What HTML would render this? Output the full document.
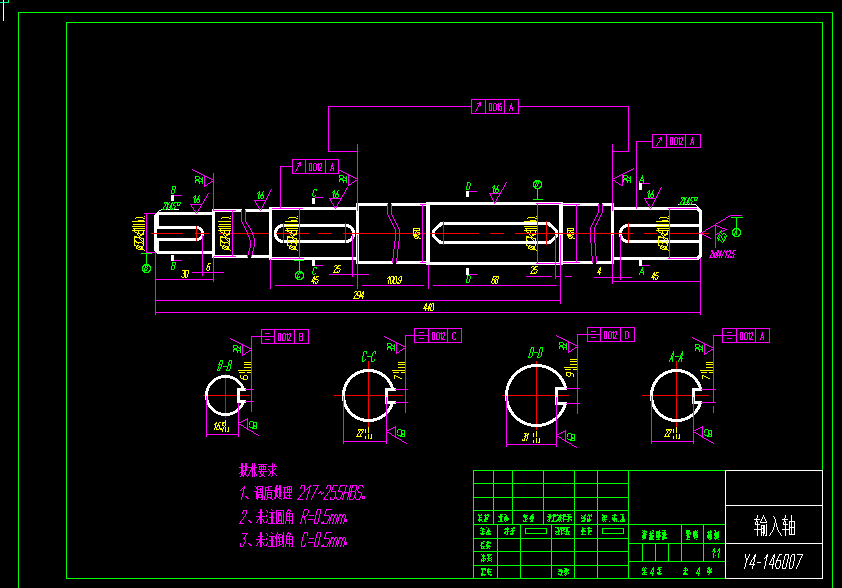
<!DOCTYPE html>
<html><head><meta charset="utf-8"><title>Y4-146007</title>
<style>html,body{margin:0;padding:0;background:#000;overflow:hidden;font-family:"Liberation Sans",sans-serif}svg{display:block}</style>
</head><body>
<svg width="842" height="588" viewBox="0 0 842 588" shape-rendering="crispEdges">
<desc>输入轴 Y4-146007 技术要求 1、调质处理 217~255HBS。 2、未注圆角 R=0.5mm。 3、未注倒角 C=0.5mm。 B-B C-C D-D A-A 比例 1:1 共4页 第4页</desc>
<rect x="0" y="0" width="842" height="588" fill="#000"/>
<path fill="rgb(0,255,0)" d="M18 12h815v1h-815zM66 22h757v1h-757zM623 175h4v1h-4zM339 175h4v1h-4zM642 175h1v2h-1zM195 176h4v1h-4zM343 176h1v1h-1zM627 176h1v1h-1zM339 176h1v2h-1zM630 176h1v2h-1zM346 176h1v2h-1zM623 176h1v2h-1zM343 177h2v1h-2zM627 177h2v1h-2zM199 177h1v1h-1zM195 177h1v2h-1zM202 177h1v2h-1zM641 177h2v2h-2zM199 178h2v1h-2zM624 178h3v1h-3zM345 178h2v1h-2zM629 178h2v1h-2zM340 178h3v1h-3zM196 179h3v1h-3zM623 179h4v1h-4zM640 179h1v1h-1zM339 179h4v1h-4zM643 179h1v1h-1zM630 179h1v1h-1zM346 179h1v1h-1zM201 179h2v1h-2zM342 180h5v1h-5zM626 180h5v1h-5zM195 180h4v1h-4zM202 180h1v1h-1zM535 180h5v1h-5zM640 180h4v1h-4zM339 180h1v2h-1zM623 180h1v2h-1zM198 181h5v1h-5zM534 181h7v1h-7zM195 181h1v2h-1zM639 181h1v2h-1zM643 181h1v2h-1zM346 181h1v2h-1zM630 181h1v2h-1zM343 181h1v2h-1zM627 181h1v2h-1zM467 182h3v1h-3zM533 182h2v1h-2zM540 182h2v1h-2zM538 182h1v2h-1zM536 182h1v2h-1zM202 182h1v2h-1zM199 182h1v2h-1zM467 183h1v3h-1zM541 183h1v3h-1zM533 183h1v3h-1zM470 183h1v3h-1zM535 184h1v2h-1zM537 184h1v2h-1zM494 185h1v1h-1zM498 185h1v1h-1zM533 186h4v1h-4zM493 186h2v1h-2zM172 186h4v1h-4zM540 186h2v1h-2zM497 186h1v2h-1zM534 187h2v1h-2zM494 187h1v1h-1zM492 187h1v1h-1zM539 187h2v1h-2zM469 186h1v3h-1zM466 186h1v3h-1zM172 187h1v2h-1zM175 187h1v2h-1zM496 188h2v1h-2zM493 188h2v1h-2zM535 188h5v1h-5zM466 189h3v1h-3zM172 189h3v1h-3zM495 189h4v1h-4zM314 189h3v1h-3zM316 190h1v1h-1zM653 190h1v1h-1zM338 190h1v1h-1zM649 190h1v1h-1zM334 190h1v1h-1zM493 189h1v3h-1zM498 190h1v2h-1zM495 190h1v2h-1zM648 191h2v1h-2zM263 191h1v1h-1zM259 191h1v1h-1zM333 191h2v1h-2zM313 190h1v3h-1zM174 190h1v3h-1zM171 190h1v3h-1zM337 191h1v2h-1zM652 191h1v2h-1zM332 192h1v1h-1zM496 192h2v1h-2zM493 192h2v1h-2zM647 192h1v1h-1zM258 192h2v1h-2zM649 192h1v1h-1zM334 192h1v1h-1zM262 192h1v2h-1zM648 193h2v1h-2zM336 193h2v1h-2zM259 193h1v1h-1zM333 193h2v1h-2zM651 193h2v1h-2zM171 193h3v1h-3zM257 193h1v1h-1zM261 194h2v1h-2zM335 194h4v1h-4zM258 194h2v1h-2zM650 194h4v1h-4zM312 193h1v3h-1zM195 195h1v1h-1zM315 195h1v1h-1zM199 195h1v1h-1zM260 195h4v1h-4zM333 194h1v3h-1zM648 194h1v3h-1zM650 195h1v2h-1zM653 195h1v2h-1zM338 195h1v2h-1zM335 195h1v2h-1zM194 196h2v1h-2zM313 196h2v1h-2zM258 195h1v3h-1zM260 196h1v2h-1zM198 196h1v2h-1zM263 196h1v2h-1zM195 197h1v1h-1zM681 197h4v1h-4zM689 197h1v1h-1zM193 197h1v1h-1zM648 197h2v1h-2zM336 197h2v1h-2zM691 197h7v1h-7zM333 197h2v1h-2zM686 197h1v1h-1zM651 197h2v1h-2zM537 189h1v10h-1zM691 198h1v1h-1zM261 198h2v1h-2zM697 198h1v1h-1zM681 198h1v1h-1zM258 198h2v1h-2zM688 198h2v1h-2zM197 198h2v1h-2zM683 198h3v1h-3zM194 198h2v1h-2zM694 198h1v2h-1zM688 199h1v1h-1zM684 199h2v1h-2zM690 199h1v1h-1zM533 199h10v1h-10zM196 199h4v1h-4zM696 199h1v1h-1zM682 199h1v2h-1zM694 200h3v1h-3zM690 200h2v1h-2zM194 199h1v3h-1zM684 200h1v2h-1zM199 200h1v2h-1zM687 200h2v2h-2zM196 200h1v2h-1zM681 201h1v1h-1zM692 201h1v1h-1zM169 202h1v1h-1zM172 202h1v1h-1zM164 202h4v1h-4zM197 202h2v1h-2zM194 202h2v1h-2zM174 202h7v1h-7zM686 202h3v1h-3zM683 202h2v2h-2zM691 202h1v2h-1zM680 202h1v2h-1zM180 203h1v1h-1zM689 203h1v1h-1zM171 203h2v1h-2zM166 203h3v1h-3zM174 203h1v1h-1zM164 203h1v1h-1zM687 203h1v2h-1zM177 203h1v2h-1zM173 204h1v1h-1zM689 204h2v1h-2zM179 204h1v1h-1zM167 204h2v1h-2zM684 204h1v1h-1zM679 204h4v1h-4zM171 204h1v1h-1zM165 204h1v2h-1zM173 205h2v1h-2zM177 205h3v1h-3zM167 205h1v2h-1zM170 205h2v2h-2zM164 206h1v1h-1zM175 206h1v1h-1zM169 207h3v1h-3zM163 207h1v2h-1zM174 207h1v2h-1zM166 207h2v2h-2zM172 208h1v1h-1zM170 208h1v2h-1zM167 209h1v1h-1zM162 209h4v1h-4zM172 209h2v1h-2zM731 217h12v1h-12zM736 218h1v10h-1zM734 228h5v1h-5zM733 229h2v1h-2zM738 229h2v1h-2zM736 229h1v2h-1zM732 230h2v1h-2zM721 230h1v1h-1zM739 230h2v1h-2zM735 231h2v2h-2zM720 231h1v2h-1zM740 231h1v3h-1zM732 231h1v3h-1zM721 233h1v1h-1zM734 233h1v1h-1zM723 233h2v1h-2zM736 233h1v2h-1zM719 234h1v1h-1zM725 234h1v1h-1zM739 234h2v1h-2zM722 234h1v1h-1zM732 234h3v1h-3zM733 235h2v1h-2zM720 235h1v1h-1zM738 235h2v1h-2zM718 235h1v2h-1zM726 235h1v2h-1zM724 236h1v1h-1zM734 236h5v1h-5zM721 236h1v2h-1zM724 237h2v1h-2zM719 237h1v1h-1zM717 237h1v1h-1zM725 238h1v1h-1zM717 238h2v1h-2zM722 238h1v2h-1zM718 239h2v1h-2zM724 239h1v1h-1zM723 240h2v1h-2zM718 240h1v1h-1zM720 240h1v1h-1zM723 241h1v1h-1zM721 241h1v1h-1zM722 242h1v1h-1zM141 253h11v1h-11zM294 260h10v1h-10zM172 262h4v1h-4zM146 254h1v10h-1zM172 263h1v2h-1zM175 263h1v2h-1zM144 264h5v1h-5zM172 265h3v1h-3zM143 265h7v1h-7zM145 266h1v1h-1zM147 266h1v1h-1zM149 266h2v1h-2zM142 266h2v1h-2zM145 267h2v1h-2zM314 267h3v1h-3zM174 266h1v3h-1zM171 266h1v3h-1zM642 267h1v2h-1zM147 268h1v1h-1zM316 268h1v1h-1zM142 267h1v3h-1zM150 267h1v3h-1zM144 268h1v2h-1zM146 269h1v1h-1zM171 269h3v1h-3zM299 261h1v10h-1zM313 268h1v3h-1zM641 269h2v2h-2zM149 270h2v1h-2zM142 270h5v1h-5zM640 271h1v1h-1zM148 271h2v1h-2zM643 271h1v1h-1zM297 271h5v1h-5zM143 271h2v1h-2zM299 272h4v1h-4zM144 272h5v1h-5zM296 272h2v1h-2zM640 272h4v1h-4zM312 271h1v3h-1zM302 273h2v1h-2zM315 273h1v1h-1zM300 273h1v1h-1zM295 273h2v1h-2zM639 273h1v2h-1zM643 273h1v2h-1zM298 273h1v2h-1zM313 274h2v1h-2zM467 275h3v1h-3zM295 274h1v3h-1zM303 274h1v3h-1zM297 275h1v2h-1zM299 276h1v1h-1zM302 277h2v1h-2zM295 277h5v1h-5zM467 276h1v3h-1zM470 276h1v3h-1zM296 278h2v1h-2zM301 278h2v1h-2zM297 279h5v1h-5zM469 279h1v3h-1zM466 279h1v3h-1zM466 282h3v1h-3zM559 342h4v1h-4zM563 343h1v1h-1zM387 343h4v1h-4zM559 343h1v2h-1zM566 343h1v2h-1zM563 344h2v1h-2zM695 344h4v1h-4zM391 344h1v1h-1zM394 344h1v2h-1zM387 344h1v2h-1zM565 345h2v1h-2zM560 345h3v1h-3zM233 345h4v1h-4zM699 345h1v1h-1zM391 345h2v1h-2zM695 345h1v2h-1zM702 345h1v2h-1zM699 346h2v1h-2zM559 346h4v1h-4zM566 346h1v1h-1zM388 346h3v1h-3zM393 346h2v1h-2zM237 346h1v1h-1zM240 346h1v2h-1zM233 346h1v2h-1zM394 347h1v1h-1zM387 347h4v1h-4zM237 347h2v1h-2zM540 347h3v1h-3zM562 347h5v1h-5zM701 347h2v1h-2zM531 347h3v1h-3zM696 347h3v1h-3zM559 347h1v2h-1zM695 348h4v1h-4zM540 348h1v1h-1zM239 348h2v1h-2zM531 348h1v1h-1zM390 348h5v1h-5zM702 348h1v1h-1zM234 348h3v1h-3zM566 348h1v2h-1zM563 348h1v2h-1zM387 348h1v2h-1zM240 349h1v1h-1zM233 349h4v1h-4zM698 349h5v1h-5zM394 349h1v2h-1zM391 349h1v2h-1zM695 349h1v2h-1zM236 350h5v1h-5zM533 348h1v4h-1zM542 348h1v4h-1zM699 350h1v2h-1zM702 350h1v2h-1zM233 350h1v2h-1zM374 351h2v1h-2zM364 351h3v1h-3zM539 349h1v4h-1zM530 349h1v4h-1zM240 351h1v2h-1zM237 351h1v2h-1zM673 351h1v2h-1zM682 351h1v2h-1zM534 352h4v1h-4zM373 352h1v1h-1zM366 352h1v2h-1zM375 352h1v2h-1zM672 353h2v2h-2zM681 353h2v2h-2zM541 352h1v4h-1zM532 352h1v4h-1zM363 352h1v4h-1zM538 353h1v3h-1zM529 353h1v3h-1zM372 353h1v3h-1zM682 355h1v1h-1zM671 355h1v1h-1zM673 355h1v1h-1zM680 355h1v1h-1zM528 356h1v1h-1zM540 356h1v1h-1zM537 356h1v1h-1zM531 356h1v1h-1zM675 356h4v1h-4zM367 356h5v1h-5zM680 356h2v2h-2zM671 356h2v2h-2zM537 357h3v1h-3zM528 357h3v1h-3zM679 358h4v1h-4zM670 358h3v1h-3zM679 359h1v1h-1zM670 359h1v1h-1zM365 359h1v1h-1zM362 356h1v5h-1zM371 357h1v4h-1zM374 359h1v2h-1zM220 360h3v1h-3zM229 360h3v1h-3zM364 360h1v1h-1zM681 359h1v3h-1zM672 359h1v3h-1zM678 360h1v2h-1zM669 360h1v2h-1zM220 361h1v1h-1zM362 361h2v1h-2zM229 361h1v1h-1zM371 361h3v1h-3zM231 361h1v3h-1zM222 361h1v3h-1zM219 362h1v2h-1zM228 362h1v2h-1zM218 364h4v1h-4zM228 364h3v1h-3zM219 365h1v1h-1zM228 365h1v1h-1zM221 365h1v2h-1zM223 366h5v1h-5zM230 365h1v4h-1zM218 366h1v3h-1zM220 367h1v2h-1zM227 367h1v2h-1zM219 369h1v1h-1zM226 369h1v1h-1zM217 369h1v1h-1zM229 369h1v1h-1zM226 370h4v1h-4zM217 370h3v1h-3zM250 421h3v1h-3zM253 422h4v1h-4zM249 422h1v3h-1zM253 423h1v2h-1zM256 423h1v3h-1zM253 425h2v1h-2zM249 426h1v1h-1zM253 426h4v1h-4zM256 427h1v1h-1zM250 427h4v1h-4zM252 428h5v1h-5zM705 429h3v1h-3zM398 429h3v1h-3zM708 430h4v1h-4zM401 430h4v1h-4zM397 430h1v3h-1zM704 430h1v3h-1zM401 431h1v2h-1zM708 431h1v2h-1zM404 431h1v3h-1zM711 431h1v3h-1zM708 433h2v1h-2zM401 433h2v1h-2zM568 433h3v1h-3zM708 434h4v1h-4zM571 434h4v1h-4zM397 434h1v1h-1zM401 434h4v1h-4zM704 434h1v1h-1zM404 435h1v1h-1zM711 435h1v1h-1zM705 435h4v1h-4zM398 435h4v1h-4zM567 434h1v3h-1zM571 435h1v2h-1zM400 436h5v1h-5zM707 436h5v1h-5zM574 435h1v3h-1zM571 437h2v1h-2zM571 438h4v1h-4zM567 438h1v1h-1zM574 439h1v1h-1zM568 439h4v1h-4zM570 440h5v1h-5zM822 23h1v447h-1zM473 470h252v1h-252zM628 471h1v12h-1zM597 471h1v12h-1zM512 471h1v12h-1zM574 471h1v12h-1zM543 471h1v12h-1zM493 471h1v12h-1zM473 471h1v12h-1zM473 483h156v1h-156zM543 484h1v13h-1zM493 484h1v13h-1zM597 484h1v13h-1zM512 484h1v13h-1zM574 484h1v13h-1zM628 484h1v13h-1zM473 484h1v13h-1zM473 497h156v1h-156zM628 498h1v12h-1zM597 498h1v12h-1zM473 498h1v12h-1zM512 498h1v12h-1zM574 498h1v12h-1zM543 498h1v12h-1zM493 498h1v12h-1zM473 510h156v1h-156zM588 514h1v1h-1zM481 514h1v1h-1zM487 514h2v1h-2zM560 514h1v1h-1zM553 514h3v1h-3zM585 514h1v1h-1zM478 514h1v1h-1zM563 514h3v1h-3zM485 514h1v1h-1zM524 514h1v1h-1zM567 514h4v1h-4zM500 514h3v1h-3zM591 514h1v1h-1zM614 514h2v1h-2zM620 514h4v1h-4zM548 514h3v1h-3zM532 514h2v1h-2zM504 514h2v1h-2zM557 514h1v1h-1zM602 514h1v1h-1zM523 515h5v1h-5zM478 515h4v1h-4zM602 515h5v1h-5zM549 515h2v1h-2zM584 515h2v1h-2zM531 515h2v1h-2zM506 515h1v1h-1zM612 515h5v1h-5zM622 515h1v1h-1zM581 515h1v1h-1zM552 515h14v1h-14zM568 515h1v1h-1zM484 515h5v1h-5zM588 515h4v1h-4zM500 515h2v1h-2zM603 516h2v1h-2zM582 516h1v1h-1zM559 516h2v1h-2zM553 516h3v1h-3zM505 516h2v1h-2zM488 516h1v1h-1zM523 516h4v1h-4zM587 516h1v1h-1zM485 516h1v1h-1zM591 516h1v1h-1zM479 516h1v1h-1zM606 516h1v1h-1zM584 516h1v1h-1zM547 516h5v1h-5zM563 516h9v1h-9zM498 516h5v1h-5zM530 516h4v2h-4zM614 516h1v2h-1zM602 517h5v1h-5zM479 517h3v1h-3zM563 517h1v1h-1zM583 517h2v1h-2zM612 517h1v1h-1zM558 517h4v1h-4zM568 517h4v1h-4zM581 517h1v1h-1zM524 517h3v1h-3zM548 517h3v1h-3zM504 517h4v1h-4zM499 517h3v1h-3zM589 516h1v3h-1zM622 516h2v3h-2zM485 517h3v2h-3zM604 518h1v1h-1zM560 518h1v1h-1zM529 518h5v1h-5zM549 518h2v1h-2zM527 518h1v1h-1zM568 518h2v1h-2zM587 518h1v1h-1zM525 518h1v1h-1zM479 518h1v1h-1zM581 518h5v1h-5zM602 518h1v1h-1zM562 518h2v1h-2zM558 518h1v1h-1zM553 517h1v3h-1zM612 518h5v2h-5zM504 518h5v2h-5zM563 519h6v1h-6zM548 519h2v1h-2zM484 519h4v1h-4zM532 519h1v1h-1zM602 519h5v1h-5zM584 519h2v1h-2zM621 519h4v1h-4zM525 519h2v1h-2zM557 519h4v1h-4zM570 519h2v1h-2zM530 519h1v1h-1zM500 518h2v3h-2zM478 519h4v2h-4zM587 519h4v2h-4zM604 520h1v1h-1zM613 520h2v1h-2zM582 520h3v1h-3zM560 520h1v1h-1zM504 520h1v1h-1zM531 520h2v1h-2zM547 520h1v1h-1zM571 520h1v1h-1zM525 520h1v1h-1zM549 520h1v1h-1zM622 520h3v1h-3zM568 520h1v1h-1zM556 520h3v1h-3zM552 520h2v1h-2zM523 520h1v1h-1zM602 520h1v1h-1zM484 520h2v1h-2zM620 520h1v1h-1zM506 520h2v1h-2zM616 520h1v2h-1zM563 520h1v2h-1zM530 521h3v1h-3zM551 521h6v1h-6zM548 521h2v1h-2zM620 521h5v1h-5zM581 521h4v1h-4zM603 521h1v1h-1zM567 521h2v1h-2zM523 521h4v1h-4zM609 521h1v1h-1zM587 521h3v1h-3zM559 521h1v1h-1zM479 521h1v1h-1zM484 521h3v1h-3zM605 521h1v1h-1zM561 521h1v1h-1zM618 521h1v1h-1zM505 521h1v1h-1zM482 521h1v1h-1zM498 521h5v1h-5zM614 521h1v1h-1zM628 511h1v13h-1zM597 511h1v13h-1zM512 511h1v13h-1zM574 511h1v13h-1zM543 511h1v13h-1zM493 511h1v13h-1zM473 511h1v13h-1zM473 524h252v1h-252zM582 527h1v1h-1zM560 527h10v1h-10zM481 527h1v1h-1zM555 527h4v1h-4zM486 527h1v1h-1zM507 527h1v1h-1zM588 527h2v1h-2zM513 527h2v1h-2zM525 528h22v1h-22zM511 528h4v1h-4zM560 528h5v1h-5zM602 528h22v1h-22zM505 528h4v1h-4zM557 528h2v1h-2zM480 528h4v1h-4zM587 528h5v1h-5zM582 528h4v1h-4zM488 528h1v2h-1zM563 529h2v1h-2zM588 529h1v1h-1zM512 529h1v1h-1zM504 529h5v1h-5zM582 529h2v1h-2zM560 529h2v1h-2zM558 529h1v1h-1zM482 529h3v1h-3zM566 528h2v3h-2zM642 530h1v1h-1zM480 530h1v1h-1zM644 530h1v1h-1zM581 530h4v1h-4zM511 530h4v1h-4zM714 530h2v1h-2zM697 530h1v1h-1zM652 530h2v1h-2zM710 530h1v1h-1zM558 530h2v1h-2zM659 530h1v1h-1zM695 530h1v1h-1zM561 530h3v1h-3zM487 530h3v1h-3zM662 530h4v1h-4zM482 530h1v1h-1zM507 530h1v1h-1zM686 530h4v2h-4zM588 530h4v2h-4zM512 531h2v1h-2zM643 531h4v1h-4zM715 531h1v1h-1zM656 531h4v1h-4zM487 531h4v1h-4zM510 531h1v1h-1zM653 531h1v1h-1zM505 531h4v1h-4zM693 531h4v1h-4zM564 531h6v1h-6zM708 531h1v1h-1zM718 531h1v1h-1zM581 531h5v1h-5zM710 531h2v1h-2zM555 531h5v1h-5zM482 531h3v1h-3zM664 531h1v1h-1zM546 529h1v4h-1zM525 529h1v4h-1zM623 529h1v4h-1zM602 529h1v4h-1zM650 531h1v2h-1zM561 531h1v2h-1zM642 532h1v1h-1zM644 532h1v1h-1zM690 532h1v1h-1zM512 532h1v1h-1zM486 532h3v1h-3zM656 532h5v1h-5zM588 532h2v1h-2zM646 532h1v1h-1zM556 532h1v1h-1zM652 532h1v1h-1zM715 532h4v1h-4zM707 532h5v1h-5zM482 532h1v1h-1zM693 532h5v1h-5zM686 532h3v1h-3zM582 532h1v2h-1zM566 532h1v2h-1zM504 532h2v2h-2zM568 532h1v2h-1zM662 532h4v2h-4zM558 532h1v2h-1zM507 532h1v2h-1zM525 533h22v1h-22zM480 533h5v1h-5zM656 533h4v1h-4zM561 533h2v1h-2zM602 533h22v1h-22zM710 533h1v1h-1zM488 533h3v1h-3zM693 533h4v1h-4zM486 533h1v1h-1zM649 533h5v1h-5zM643 533h3v1h-3zM555 533h1v1h-1zM708 533h1v1h-1zM686 533h5v1h-5zM510 533h4v1h-4zM564 533h1v1h-1zM588 533h1v2h-1zM590 534h1v1h-1zM690 534h1v1h-1zM708 534h4v1h-4zM643 534h4v1h-4zM481 534h3v1h-3zM658 534h2v1h-2zM556 534h4v1h-4zM662 534h5v1h-5zM510 534h3v1h-3zM656 534h1v1h-1zM650 534h2v1h-2zM561 534h1v1h-1zM565 534h5v1h-5zM581 534h5v1h-5zM687 534h2v1h-2zM486 534h5v1h-5zM506 534h2v1h-2zM714 533h5v3h-5zM693 534h5v2h-5zM663 535h3v1h-3zM686 535h3v1h-3zM649 535h5v1h-5zM656 535h5v2h-5zM696 536h2v1h-2zM662 536h3v1h-3zM693 536h2v1h-2zM715 536h4v1h-4zM650 536h4v1h-4zM520 525h1v13h-1zM628 525h1v13h-1zM597 525h1v13h-1zM551 525h1v13h-1zM574 525h1v13h-1zM497 525h1v13h-1zM473 525h1v13h-1zM642 535h4v3h-4zM707 535h5v3h-5zM687 536h3v2h-3zM716 537h3v1h-3zM656 537h4v1h-4zM694 537h4v1h-4zM714 537h1v1h-1zM649 537h4v2h-4zM662 537h5v2h-5zM694 538h1v1h-1zM687 538h1v1h-1zM714 538h4v1h-4zM473 538h156v1h-156zM643 538h3v1h-3zM708 538h1v1h-1zM658 538h1v1h-1zM710 538h2v1h-2zM642 539h1v1h-1zM686 539h4v1h-4zM715 539h1v1h-1zM656 539h4v1h-4zM649 539h5v1h-5zM718 539h1v1h-1zM696 539h1v1h-1zM662 539h2v1h-2zM709 539h2v1h-2zM487 541h2v1h-2zM483 541h2v1h-2zM703 525h1v18h-1zM681 525h1v18h-1zM628 539h1v4h-1zM481 542h2v1h-2zM486 542h5v1h-5zM487 543h2v1h-2zM481 543h3v1h-3zM490 543h1v1h-1zM628 543h97v1h-97zM481 544h1v1h-1zM486 544h2v1h-2zM486 545h4v1h-4zM480 545h2v1h-2zM481 546h4v1h-4zM486 546h5v1h-5zM481 547h1v1h-1zM487 547h2v1h-2zM483 547h1v1h-1zM489 548h1v1h-1zM719 548h1v1h-1zM486 548h2v1h-2zM481 548h4v1h-4zM714 548h1v1h-1zM520 539h1v12h-1zM597 539h1v12h-1zM551 539h1v12h-1zM574 539h1v12h-1zM497 539h1v12h-1zM473 539h1v12h-1zM628 544h1v7h-1zM718 549h2v2h-2zM713 549h2v2h-2zM714 551h2v1h-2zM712 551h1v1h-1zM717 551h1v1h-1zM473 551h156v1h-156zM719 551h1v2h-1zM714 552h1v1h-1zM481 554h1v1h-1zM483 554h1v1h-1zM487 554h5v1h-5zM487 555h2v1h-2zM715 555h1v1h-1zM490 555h1v1h-1zM482 555h3v2h-3zM488 556h2v1h-2zM713 553h1v5h-1zM718 553h1v5h-1zM491 557h1v1h-1zM488 557h1v1h-1zM483 557h1v1h-1zM487 558h4v1h-4zM482 558h4v1h-4zM491 559h1v1h-1zM481 559h1v1h-1zM488 559h1v1h-1zM485 559h1v1h-1zM483 559h1v1h-1zM642 544h1v17h-1zM703 544h1v17h-1zM681 544h1v17h-1zM655 544h1v17h-1zM668 544h1v17h-1zM628 552h1v9h-1zM488 560h3v1h-3zM481 560h4v1h-4zM491 561h1v1h-1zM481 561h1v1h-1zM628 561h97v1h-97zM487 561h1v1h-1zM483 561h1v1h-1zM520 552h1v13h-1zM597 552h1v13h-1zM551 552h1v13h-1zM574 552h1v13h-1zM497 552h1v13h-1zM473 552h1v13h-1zM628 562h1v3h-1zM473 565h156v1h-156zM708 567h2v1h-2zM685 567h1v1h-1zM653 567h1v1h-1zM699 567h1v1h-1zM658 567h4v1h-4zM643 567h1v1h-1zM645 567h1v1h-1zM564 568h3v1h-3zM658 568h2v1h-2zM488 568h1v1h-1zM711 568h1v1h-1zM684 568h3v1h-3zM646 568h1v1h-1zM707 568h3v1h-3zM642 568h1v2h-1zM644 568h1v2h-1zM481 568h5v2h-5zM652 568h2v2h-2zM698 568h2v2h-2zM565 569h4v1h-4zM708 569h4v1h-4zM685 569h1v1h-1zM687 569h1v1h-1zM657 569h4v1h-4zM558 569h4v1h-4zM487 569h5v1h-5zM559 570h4v1h-4zM487 570h2v1h-2zM564 570h5v1h-5zM485 570h1v1h-1zM642 570h4v1h-4zM659 570h1v1h-1zM707 570h1v1h-1zM709 570h2v1h-2zM683 570h5v1h-5zM651 570h1v2h-1zM697 570h1v2h-1zM653 570h1v2h-1zM699 570h1v2h-1zM558 571h5v1h-5zM644 571h1v1h-1zM685 571h1v1h-1zM487 571h4v1h-4zM564 571h4v1h-4zM659 571h2v1h-2zM482 570h1v3h-1zM707 571h5v2h-5zM487 572h2v1h-2zM566 572h1v1h-1zM684 572h2v1h-2zM650 572h1v1h-1zM643 572h4v1h-4zM561 572h2v1h-2zM490 572h1v1h-1zM698 572h1v1h-1zM696 572h1v1h-1zM652 572h1v1h-1zM657 572h3v1h-3zM564 572h1v1h-1zM568 572h1v2h-1zM642 573h1v1h-1zM565 573h2v1h-2zM644 573h1v1h-1zM683 573h4v1h-4zM696 573h4v1h-4zM709 573h1v1h-1zM488 573h1v1h-1zM657 573h5v1h-5zM561 573h1v1h-1zM481 573h2v1h-2zM650 573h4v1h-4zM558 573h1v1h-1zM642 574h5v1h-5zM566 574h1v1h-1zM481 574h5v1h-5zM558 574h4v1h-4zM708 574h1v1h-1zM658 574h3v1h-3zM683 574h5v1h-5zM488 574h4v1h-4zM564 574h1v1h-1zM698 574h1v2h-1zM652 574h1v2h-1zM490 575h2v1h-2zM560 575h1v1h-1zM562 575h1v1h-1zM565 575h1v1h-1zM484 575h1v1h-1zM481 575h2v1h-2zM66 23h1v555h-1zM520 566h1v12h-1zM628 566h1v12h-1zM597 566h1v12h-1zM551 566h1v12h-1zM574 566h1v12h-1zM497 566h1v12h-1zM473 566h1v12h-1zM66 578h659v1h-659zM18 13h1v575h-1zM832 13h1v575h-1z"/>
<path fill="rgb(255,0,255)" d="M471 99h48v1h-48zM479 102h2v1h-2zM500 103h2v1h-2zM498 103h1v1h-1zM494 103h2v1h-2zM477 103h4v1h-4zM489 103h3v1h-3zM511 103h1v2h-1zM500 104h1v1h-1zM496 104h3v1h-3zM479 104h2v1h-2zM471 100h1v6h-1zM518 100h1v6h-1zM498 105h2v1h-2zM480 105h1v1h-1zM478 105h1v2h-1zM510 105h2v2h-2zM518 106h111v1h-111zM498 106h4v1h-4zM328 106h144v1h-144zM512 107h1v1h-1zM510 107h1v1h-1zM498 107h1v2h-1zM477 107h1v2h-1zM510 108h3v1h-3zM491 104h1v6h-1zM489 104h1v6h-1zM493 104h1v6h-1zM496 105h1v5h-1zM501 107h1v3h-1zM498 109h2v1h-2zM512 109h1v2h-1zM509 109h1v2h-1zM476 109h1v2h-1zM493 110h3v1h-3zM500 110h2v1h-2zM498 110h1v1h-1zM489 110h3v1h-3zM475 111h1v1h-1zM504 100h1v13h-1zM485 100h1v13h-1zM471 107h1v6h-1zM518 107h1v6h-1zM471 113h48v1h-48zM652 134h49v1h-49zM675 137h2v1h-2zM681 137h2v1h-2zM679 137h1v1h-1zM660 137h2v1h-2zM670 137h3v1h-3zM692 137h1v2h-1zM658 138h4v1h-4zM677 138h4v1h-4zM660 139h2v1h-2zM652 135h1v6h-1zM682 138h1v3h-1zM691 139h2v2h-2zM661 140h1v1h-1zM659 140h1v2h-1zM693 141h1v1h-1zM691 141h1v1h-1zM636 141h17v1h-17zM679 139h1v4h-1zM681 141h1v2h-1zM691 142h3v1h-3zM658 142h1v1h-1zM672 138h1v6h-1zM670 138h1v6h-1zM674 138h1v6h-1zM677 139h1v5h-1zM679 143h2v1h-2zM693 143h1v2h-1zM657 143h1v2h-1zM690 143h1v2h-1zM674 144h3v1h-3zM679 144h4v1h-4zM670 144h3v1h-3zM656 145h1v1h-1zM700 135h1v12h-1zM666 135h1v12h-1zM685 135h1v12h-1zM652 142h1v5h-1zM652 147h49v1h-49zM628 107h1v44h-1zM328 107h1v44h-1zM612 144h1v7h-1zM357 144h1v7h-1zM612 151h17v1h-17zM328 151h30v1h-30zM292 159h47v1h-47zM299 162h2v1h-2zM318 163h1v1h-1zM309 163h3v1h-3zM314 163h2v1h-2zM320 163h2v1h-2zM297 163h4v1h-4zM332 163h1v2h-1zM316 164h4v1h-4zM299 164h2v1h-2zM292 160h1v6h-1zM300 165h1v1h-1zM321 164h1v3h-1zM298 165h1v2h-1zM331 165h2v2h-2zM280 166h13v1h-13zM331 167h1v1h-1zM333 167h1v1h-1zM318 165h1v4h-1zM297 167h1v2h-1zM320 167h1v2h-1zM331 168h3v1h-3zM633 168h1v1h-1zM338 160h1v10h-1zM313 164h1v6h-1zM311 164h1v6h-1zM309 164h1v6h-1zM316 165h1v5h-1zM318 169h2v1h-2zM192 169h1v1h-1zM631 169h2v1h-2zM330 169h1v2h-1zM296 169h1v2h-1zM333 169h1v2h-1zM313 170h3v1h-3zM318 170h4v1h-4zM309 170h3v1h-3zM338 170h3v1h-3zM629 170h2v1h-2zM193 170h2v1h-2zM341 171h2v1h-2zM627 171h2v1h-2zM195 171h2v1h-2zM295 171h1v1h-1zM325 160h1v13h-1zM305 160h1v13h-1zM292 167h1v6h-1zM338 171h1v2h-1zM625 172h2v1h-2zM197 172h2v1h-2zM343 172h2v1h-2zM292 173h47v1h-47zM345 173h2v1h-2zM199 173h2v1h-2zM623 173h2v1h-2zM621 174h2v1h-2zM201 174h2v1h-2zM347 174h2v1h-2zM348 175h3v1h-3zM619 175h2v1h-2zM203 175h2v1h-2zM204 176h3v1h-3zM351 176h2v1h-2zM617 176h2v1h-2zM612 152h1v26h-1zM357 152h1v26h-1zM207 177h2v1h-2zM615 177h2v1h-2zM353 177h2v1h-2zM213 173h1v6h-1zM612 178h3v1h-3zM355 178h3v1h-3zM209 178h2v1h-2zM612 179h1v1h-1zM211 179h3v1h-3zM357 179h1v1h-1zM612 180h3v1h-3zM213 180h1v1h-1zM355 180h3v1h-3zM615 181h1v1h-1zM211 181h3v1h-3zM354 181h1v1h-1zM506 182h1v1h-1zM616 182h2v1h-2zM210 182h1v1h-1zM352 182h2v1h-2zM348 176h1v8h-1zM208 183h2v1h-2zM618 183h1v1h-1zM642 183h8v1h-8zM351 183h1v1h-1zM622 175h1v10h-1zM204 177h1v8h-1zM505 183h1v2h-1zM619 184h2v1h-2zM348 184h3v1h-3zM207 184h1v1h-1zM348 185h1v1h-1zM621 185h2v1h-2zM204 185h3v1h-3zM504 185h1v2h-1zM204 186h1v1h-1zM347 187h1v1h-1zM661 187h1v1h-1zM503 187h1v2h-1zM346 188h1v2h-1zM660 188h1v2h-1zM502 189h1v1h-1zM271 189h1v1h-1zM659 190h1v2h-1zM501 190h1v2h-1zM345 190h1v2h-1zM270 190h1v2h-1zM469 191h8v1h-8zM500 192h1v1h-1zM269 192h1v2h-1zM658 192h1v2h-1zM344 192h1v2h-1zM489 193h12v1h-12zM208 193h1v1h-1zM343 194h1v1h-1zM268 194h1v2h-1zM490 194h1v2h-1zM499 194h1v2h-1zM657 194h1v2h-1zM207 194h1v2h-1zM174 195h8v1h-8zM342 195h1v2h-1zM498 196h1v1h-1zM206 196h1v2h-1zM656 196h1v2h-1zM491 196h1v2h-1zM267 196h1v2h-1zM341 197h1v1h-1zM315 197h8v1h-8zM497 197h1v2h-1zM329 198h13v1h-13zM644 198h12v1h-12zM205 198h1v1h-1zM492 198h1v2h-1zM266 198h1v2h-1zM655 199h1v1h-1zM496 199h1v2h-1zM340 199h1v2h-1zM645 199h1v2h-1zM330 199h1v2h-1zM204 199h1v2h-1zM254 200h12v1h-12zM493 200h1v2h-1zM654 200h1v2h-1zM265 201h1v1h-1zM339 201h1v1h-1zM495 201h1v1h-1zM331 201h1v2h-1zM203 201h1v2h-1zM646 201h1v2h-1zM255 201h1v2h-1zM494 202h2v1h-2zM653 202h1v2h-1zM338 202h1v2h-1zM264 202h1v2h-1zM647 203h1v1h-1zM202 203h1v1h-1zM536 203h25v1h-25zM332 203h1v1h-1zM494 203h1v1h-1zM256 203h1v2h-1zM420 204h6v1h-6zM190 204h12v1h-12zM563 204h17v1h-17zM263 204h1v2h-1zM337 204h1v2h-1zM652 204h1v2h-1zM648 204h1v2h-1zM333 204h1v2h-1zM201 205h1v1h-1zM257 205h1v1h-1zM191 205h1v2h-1zM280 167h1v41h-1zM200 206h1v2h-1zM649 206h1v2h-1zM334 206h1v2h-1zM262 206h1v2h-1zM258 206h1v2h-1zM336 206h1v2h-1zM651 206h1v2h-1zM192 207h1v1h-1zM636 142h1v67h-1zM199 208h1v1h-1zM335 208h1v1h-1zM668 208h29v1h-29zM272 208h31v1h-31zM650 208h1v1h-1zM213 182h1v28h-1zM259 208h1v2h-1zM261 208h1v2h-1zM193 208h1v2h-1zM612 181h1v30h-1zM357 181h1v30h-1zM198 209h1v2h-1zM213 210h23v1h-23zM260 210h1v1h-1zM194 210h1v1h-1zM598 204h1v9h-1zM602 204h1v9h-1zM197 211h1v2h-1zM195 211h1v2h-1zM144 213h12v1h-12zM196 213h1v1h-1zM387 204h1v11h-1zM391 204h1v11h-1zM597 213h1v2h-1zM601 213h1v2h-1zM730 215h12v1h-12zM388 215h1v2h-1zM596 215h1v2h-1zM392 215h1v2h-1zM600 215h1v2h-1zM728 216h2v1h-2zM726 217h2v1h-2zM599 217h1v2h-1zM595 217h1v2h-1zM393 217h1v2h-1zM389 217h1v2h-1zM725 218h1v1h-1zM723 219h2v1h-2zM390 219h1v2h-1zM598 219h1v2h-1zM394 219h1v2h-1zM594 219h1v2h-1zM721 220h2v1h-2zM241 210h1v12h-1zM245 210h1v12h-1zM720 221h1v1h-1zM597 221h1v2h-1zM593 221h1v2h-1zM395 221h1v2h-1zM391 221h1v2h-1zM718 222h2v1h-2zM246 222h1v2h-1zM242 222h1v2h-1zM716 223h2v1h-2zM396 223h1v2h-1zM596 223h1v2h-1zM592 223h1v2h-1zM392 223h1v2h-1zM247 224h1v1h-1zM715 224h1v1h-1zM243 224h1v2h-1zM713 225h4v1h-4zM595 225h1v2h-1zM397 225h1v2h-1zM393 225h1v2h-1zM591 225h1v2h-1zM248 225h1v2h-1zM711 226h2v1h-2zM717 226h3v1h-3zM244 226h1v2h-1zM710 227h1v1h-1zM249 227h1v1h-1zM720 227h2v1h-2zM398 227h1v2h-1zM394 227h1v2h-1zM722 228h3v1h-3zM708 228h2v1h-2zM250 228h1v2h-1zM245 228h1v2h-1zM725 229h2v1h-2zM706 229h2v1h-2zM723 230h2v1h-2zM705 230h1v1h-1zM246 230h1v2h-1zM251 230h1v2h-1zM703 231h2v1h-2zM721 231h2v1h-2zM576 205h1v28h-1zM594 227h1v6h-1zM590 227h1v6h-1zM701 232h2v1h-2zM719 232h1v1h-1zM715 226h1v8h-1zM717 233h2v1h-2zM700 233h2v1h-2zM252 232h1v3h-1zM247 232h1v3h-1zM715 234h2v1h-2zM702 234h2v1h-2zM704 235h2v1h-2zM248 235h1v2h-1zM706 236h2v1h-2zM253 235h1v3h-1zM708 237h2v1h-2zM710 238h1v1h-1zM249 237h1v3h-1zM399 229h1v12h-1zM395 229h1v12h-1zM594 234h1v9h-1zM590 234h1v9h-1zM254 238h1v9h-1zM715 235h1v13h-1zM250 240h1v8h-1zM398 241h1v8h-1zM394 241h1v8h-1zM253 247h1v4h-1zM249 248h1v3h-1zM721 250h1v1h-1zM729 250h2v1h-2zM733 250h3v1h-3zM727 250h1v1h-1zM146 214h1v38h-1zM717 250h2v2h-2zM724 250h1v2h-1zM711 250h2v2h-2zM733 251h1v1h-1zM726 251h3v1h-3zM720 251h2v1h-2zM718 252h1v1h-1zM725 252h2v1h-2zM715 252h2v1h-2zM720 252h1v1h-1zM146 252h10v1h-10zM732 252h1v1h-1zM712 252h2v1h-2zM730 251h1v3h-1zM723 252h1v2h-1zM732 253h2v1h-2zM712 253h3v1h-3zM252 251h1v4h-1zM248 251h1v4h-1zM716 253h2v2h-2zM719 253h2v2h-2zM711 254h1v1h-1zM734 254h1v1h-1zM729 254h1v1h-1zM232 211h1v45h-1zM595 243h1v13h-1zM591 243h1v13h-1zM726 253h1v3h-1zM722 254h1v2h-1zM713 254h2v2h-2zM716 255h5v1h-5zM710 255h1v2h-1zM733 255h1v2h-1zM247 255h1v2h-1zM728 255h1v2h-1zM251 255h1v2h-1zM713 256h3v1h-3zM717 256h1v1h-1zM214 256h22v1h-22zM730 256h2v1h-2zM299 209h1v49h-1zM669 209h1v49h-1zM397 249h1v9h-1zM393 249h1v9h-1zM721 256h1v2h-1zM719 256h1v2h-1zM725 256h1v2h-1zM727 257h2v1h-2zM714 257h3v1h-3zM709 257h4v1h-4zM730 257h4v1h-4zM272 258h32v1h-32zM668 258h29v1h-29zM174 260h8v1h-8zM422 205h1v57h-1zM576 234h1v28h-1zM537 204h1v59h-1zM555 235h1v28h-1zM560 235h1v28h-1zM596 256h1v7h-1zM592 256h1v7h-1zM396 258h1v5h-1zM392 258h1v5h-1zM420 262h6v1h-6zM563 262h17v1h-17zM536 263h25v1h-25zM642 265h8v1h-8zM315 265h8v1h-8zM202 235h1v37h-1zM213 257h1v15h-1zM192 272h32v1h-32zM352 235h1v39h-1zM357 235h1v39h-1zM329 274h40v1h-40zM469 274h8v1h-8zM555 264h1v12h-1zM560 264h1v12h-1zM202 273h1v3h-1zM612 235h1v42h-1zM620 235h1v42h-1zM352 275h1v2h-1zM555 276h6v1h-6zM565 276h7v1h-7zM526 276h26v1h-26zM594 277h38v1h-38zM155 253h1v26h-1zM213 273h1v6h-1zM555 277h1v2h-1zM620 278h1v2h-1zM155 279h59v1h-59zM700 258h1v23h-1zM612 278h1v3h-1zM213 280h1v2h-1zM612 281h89v1h-89zM612 282h1v2h-1zM275 285h78v1h-78zM433 285h124v1h-124zM362 285h62v1h-62zM270 259h1v30h-1zM428 265h1v24h-1zM357 275h1v14h-1zM560 277h1v23h-1zM155 280h1v20h-1zM155 300h406v1h-406zM560 301h1v3h-1zM700 282h1v30h-1zM155 301h1v11h-1zM155 312h546v1h-546zM700 313h1v2h-1zM155 313h1v2h-1zM587 327h48v1h-48zM414 328h48v1h-48zM722 328h48v1h-48zM261 329h48v1h-48zM625 331h3v1h-3zM615 331h2v1h-2zM591 331h5v1h-5zM604 331h3v1h-3zM609 331h2v1h-2zM613 331h1v1h-1zM611 332h4v1h-4zM443 332h2v1h-2zM453 332h3v1h-3zM749 332h1v1h-1zM419 332h5v1h-5zM751 332h2v1h-2zM437 332h2v1h-2zM432 332h3v1h-3zM727 332h5v1h-5zM745 332h2v1h-2zM441 332h1v1h-1zM740 332h3v1h-3zM600 328h1v6h-1zM587 328h1v6h-1zM762 332h1v2h-1zM278 333h3v1h-3zM287 333h1v1h-1zM439 333h4v1h-4zM265 333h5v1h-5zM747 333h4v1h-4zM455 333h1v1h-1zM289 333h2v1h-2zM299 333h4v1h-4zM283 333h2v1h-2zM414 329h1v6h-1zM736 329h1v6h-1zM428 329h1v6h-1zM722 329h1v6h-1zM616 332h1v3h-1zM285 334h4v1h-4zM577 334h24v1h-24zM261 330h1v6h-1zM274 330h1v6h-1zM752 333h1v3h-1zM444 333h1v3h-1zM302 334h1v2h-1zM299 334h1v2h-1zM761 334h2v2h-2zM405 335h24v1h-24zM556 335h1v1h-1zM713 335h24v1h-24zM613 333h1v4h-1zM290 334h1v3h-1zM615 335h1v2h-1zM761 336h1v1h-1zM557 336h2v1h-2zM384 336h1v1h-1zM251 336h24v1h-24zM763 336h1v1h-1zM299 336h4v1h-4zM608 332h1v6h-1zM606 332h1v6h-1zM604 332h1v6h-1zM628 332h1v6h-1zM625 332h1v6h-1zM611 333h1v5h-1zM749 334h1v4h-1zM441 334h1v4h-1zM443 336h1v2h-1zM751 336h1v2h-1zM761 337h3v1h-3zM385 337h2v1h-2zM692 337h1v1h-1zM613 337h2v1h-2zM591 337h5v1h-5zM559 337h2v1h-2zM452 333h1v6h-1zM434 333h1v6h-1zM436 333h1v6h-1zM742 333h1v6h-1zM744 333h1v6h-1zM432 333h1v6h-1zM740 333h1v6h-1zM747 334h1v5h-1zM439 334h1v5h-1zM287 335h1v4h-1zM289 337h1v2h-1zM561 338h2v1h-2zM693 338h2v1h-2zM419 338h5v1h-5zM625 338h3v1h-3zM441 338h2v1h-2zM749 338h2v1h-2zM455 338h1v1h-1zM608 338h3v1h-3zM613 338h4v1h-4zM387 338h2v1h-2zM727 338h5v1h-5zM230 338h1v1h-1zM604 338h3v1h-3zM280 334h1v6h-1zM282 334h1v6h-1zM278 334h1v6h-1zM285 335h1v5h-1zM302 337h1v3h-1zM299 337h1v3h-1zM760 338h1v2h-1zM763 338h1v2h-1zM453 339h3v1h-3zM389 339h2v1h-2zM441 339h4v1h-4zM265 339h5v1h-5zM436 339h3v1h-3zM231 339h2v1h-2zM432 339h3v1h-3zM749 339h4v1h-4zM563 339h2v1h-2zM744 339h3v1h-3zM287 339h2v1h-2zM695 339h2v1h-2zM740 339h3v1h-3zM620 328h1v13h-1zM634 328h1v13h-1zM587 335h1v6h-1zM600 335h1v6h-1zM278 340h3v1h-3zM233 340h2v1h-2zM391 340h2v1h-2zM697 340h2v1h-2zM287 340h4v1h-4zM565 340h2v1h-2zM282 340h3v1h-3zM299 340h4v1h-4zM461 329h1v13h-1zM769 329h1v13h-1zM755 329h1v13h-1zM447 329h1v13h-1zM414 336h1v6h-1zM428 336h1v6h-1zM722 336h1v6h-1zM736 336h1v6h-1zM567 341h2v1h-2zM393 341h2v1h-2zM235 341h2v1h-2zM699 341h2v1h-2zM587 341h48v1h-48zM308 330h1v13h-1zM294 330h1v13h-1zM261 337h1v6h-1zM274 337h1v6h-1zM395 342h2v1h-2zM701 342h2v1h-2zM414 342h48v1h-48zM568 342h3v1h-3zM722 342h48v1h-48zM237 342h2v1h-2zM703 343h2v1h-2zM396 343h3v1h-3zM571 343h2v1h-2zM239 343h2v1h-2zM261 343h48v1h-48zM577 335h1v10h-1zM573 344h2v1h-2zM399 344h2v1h-2zM704 344h3v1h-3zM241 344h2v1h-2zM405 336h1v10h-1zM575 345h3v1h-3zM401 345h2v1h-2zM707 345h2v1h-2zM242 345h3v1h-3zM713 336h1v11h-1zM403 346h3v1h-3zM245 346h2v1h-2zM577 346h1v1h-1zM709 346h2v1h-2zM251 337h1v11h-1zM575 347h3v1h-3zM711 347h3v1h-3zM405 347h1v1h-1zM247 347h2v1h-2zM403 348h3v1h-3zM574 348h1v1h-1zM249 348h3v1h-3zM713 348h1v1h-1zM711 349h3v1h-3zM402 349h1v1h-1zM572 349h2v1h-2zM251 349h1v1h-1zM568 343h1v8h-1zM710 350h1v1h-1zM571 350h1v1h-1zM249 350h3v1h-3zM400 350h2v1h-2zM396 344h1v8h-1zM399 351h1v1h-1zM568 351h3v1h-3zM248 351h1v1h-1zM708 351h2v1h-2zM704 345h1v8h-1zM246 352h2v1h-2zM707 352h1v1h-1zM568 352h1v1h-1zM396 352h3v1h-3zM242 346h1v8h-1zM396 353h1v1h-1zM245 353h1v1h-1zM704 353h3v1h-3zM242 354h3v1h-3zM704 354h1v1h-1zM242 355h1v1h-1zM577 348h1v40h-1zM405 349h1v40h-1zM713 350h1v39h-1zM251 351h1v38h-1zM566 388h14v1h-14zM395 389h13v1h-13zM701 389h15v1h-15zM245 389h9v1h-9zM251 390h1v11h-1zM405 390h1v12h-1zM713 390h1v12h-1zM245 401h9v1h-9zM577 389h1v14h-1zM395 402h13v1h-13zM701 402h15v1h-15zM566 403h14v1h-14zM251 402h1v10h-1zM405 403h1v10h-1zM713 406h1v7h-1zM577 404h1v10h-1zM247 418h1v1h-1zM245 419h3v1h-3zM243 420h2v1h-2zM238 403h1v19h-1zM241 421h2v1h-2zM238 422h3v1h-3zM238 423h1v1h-1zM238 424h3v1h-3zM241 425h2v1h-2zM243 426h1v1h-1zM702 426h1v1h-1zM395 426h1v1h-1zM247 420h1v8h-1zM244 427h2v1h-2zM393 427h3v1h-3zM700 427h3v1h-3zM246 428h2v1h-2zM391 428h2v1h-2zM698 428h2v1h-2zM386 397h1v33h-1zM693 397h1v33h-1zM389 429h2v1h-2zM696 429h2v1h-2zM247 429h2v1h-2zM565 430h1v1h-1zM386 430h3v1h-3zM693 430h3v1h-3zM249 430h2v1h-2zM563 431h3v1h-3zM386 431h1v1h-1zM251 431h2v1h-2zM693 431h1v1h-1zM561 432h2v1h-2zM253 432h1v1h-1zM386 432h3v1h-3zM693 432h3v1h-3zM206 396h1v38h-1zM556 397h1v37h-1zM238 425h1v9h-1zM389 433h2v1h-2zM254 433h2v1h-2zM696 433h2v1h-2zM559 433h2v1h-2zM698 434h1v1h-1zM556 434h3v1h-3zM256 434h2v1h-2zM206 434h33v1h-33zM391 434h1v1h-1zM702 428h1v8h-1zM395 428h1v8h-1zM392 435h2v1h-2zM556 435h1v1h-1zM258 435h1v1h-1zM699 435h2v1h-2zM206 435h1v2h-1zM238 435h1v2h-1zM394 436h2v1h-2zM701 436h2v1h-2zM556 436h3v1h-3zM395 437h2v1h-2zM559 437h2v1h-2zM702 437h2v1h-2zM704 438h2v1h-2zM561 438h1v1h-1zM397 438h2v1h-2zM565 432h1v8h-1zM562 439h2v1h-2zM399 439h2v1h-2zM706 439h2v1h-2zM343 396h1v45h-1zM651 396h1v45h-1zM386 433h1v8h-1zM693 433h1v8h-1zM564 440h2v1h-2zM708 440h1v1h-1zM401 440h1v1h-1zM709 441h2v1h-2zM565 441h2v1h-2zM402 441h2v1h-2zM343 441h44v1h-44zM651 441h43v1h-43zM567 442h2v1h-2zM711 442h2v1h-2zM404 442h2v1h-2zM506 396h1v48h-1zM556 437h1v7h-1zM651 442h1v2h-1zM693 442h1v2h-1zM343 442h1v2h-1zM386 442h1v2h-1zM713 443h1v1h-1zM406 443h1v1h-1zM569 443h2v1h-2zM506 444h51v1h-51zM571 444h1v1h-1zM572 445h2v1h-2zM506 445h1v2h-1zM556 445h1v2h-1zM574 446h2v1h-2zM576 447h1v1h-1zM254 463h1v2h-1zM258 464h9v1h-9zM241 463h2v3h-2zM272 463h1v3h-1zM245 463h2v3h-2zM274 464h1v2h-1zM263 465h1v1h-1zM254 465h2v1h-2zM261 465h1v1h-1zM252 463h1v4h-1zM259 466h7v1h-7zM268 466h9v1h-9zM241 466h7v1h-7zM254 466h1v1h-1zM239 467h4v1h-4zM248 467h9v1h-9zM265 467h1v2h-1zM259 467h1v2h-1zM263 467h1v2h-1zM261 467h1v2h-1zM275 468h1v1h-1zM272 467h1v3h-1zM245 467h2v3h-2zM241 468h2v2h-2zM251 468h4v2h-4zM268 469h1v1h-1zM274 469h1v1h-1zM259 469h7v1h-7zM272 470h2v1h-2zM269 470h1v1h-1zM241 470h6v1h-6zM261 470h1v1h-1zM250 470h1v2h-1zM254 470h1v2h-1zM258 471h9v1h-9zM241 471h3v1h-3zM245 471h1v1h-1zM270 471h3v1h-3zM272 472h2v1h-2zM240 472h3v1h-3zM263 472h1v2h-1zM249 472h1v2h-1zM254 472h2v2h-2zM270 472h1v2h-1zM260 472h1v2h-1zM239 473h1v1h-1zM274 473h1v1h-1zM244 472h2v3h-2zM241 473h2v2h-2zM269 474h1v1h-1zM275 474h1v1h-1zM261 474h2v1h-2zM272 473h1v3h-1zM248 474h1v2h-1zM256 474h1v2h-1zM268 475h1v1h-1zM241 475h3v1h-3zM261 475h3v1h-3zM246 475h1v1h-1zM276 475h1v1h-1zM252 470h1v7h-1zM254 474h1v3h-1zM240 476h1v1h-1zM247 476h1v1h-1zM264 476h1v1h-1zM243 476h1v1h-1zM271 476h1v1h-1zM259 476h2v1h-2zM359 485h4v1h-4zM352 485h5v1h-5zM340 485h5v1h-5zM310 485h1v1h-1zM313 485h6v1h-6zM301 485h4v1h-4zM327 485h4v1h-4zM333 485h5v1h-5zM276 485h2v2h-2zM346 485h1v2h-1zM340 486h1v1h-1zM327 486h1v1h-1zM257 486h6v1h-6zM362 486h1v1h-1zM287 486h5v1h-5zM268 486h4v1h-4zM333 486h1v1h-1zM309 486h2v1h-2zM255 486h1v1h-1zM244 486h1v1h-1zM301 486h1v1h-1zM350 485h1v3h-1zM279 485h2v3h-2zM352 486h1v2h-1zM317 486h1v2h-1zM308 487h2v1h-2zM283 487h5v1h-5zM275 487h2v1h-2zM243 487h2v1h-2zM265 487h4v1h-4zM363 487h1v1h-1zM358 486h1v3h-1zM356 486h1v3h-1zM291 487h1v2h-1zM326 487h1v2h-1zM289 487h1v2h-1zM300 487h1v2h-1zM262 487h1v2h-1zM256 487h2v2h-2zM287 488h1v1h-1zM260 488h1v1h-1zM242 488h1v1h-1zM307 488h1v1h-1zM244 488h1v1h-1zM330 486h1v4h-1zM339 487h1v3h-1zM332 487h1v3h-1zM268 488h1v2h-1zM265 488h1v2h-1zM275 488h6v2h-6zM316 488h1v2h-1zM241 489h1v1h-1zM257 489h6v1h-6zM356 489h2v1h-2zM287 489h5v1h-5zM306 489h1v1h-1zM345 487h1v4h-1zM309 488h1v3h-1zM349 488h1v3h-1zM351 488h1v3h-1zM265 490h8v1h-8zM240 490h1v1h-1zM338 490h1v1h-1zM331 490h1v1h-1zM257 490h1v1h-1zM355 490h1v1h-1zM357 490h1v1h-1zM304 486h1v6h-1zM284 488h1v4h-1zM315 490h1v2h-1zM274 490h4v2h-4zM291 490h1v2h-1zM287 490h1v2h-1zM289 490h1v2h-1zM262 490h1v2h-1zM279 490h2v2h-2zM260 490h1v2h-1zM329 490h1v2h-1zM349 491h6v1h-6zM331 491h5v1h-5zM254 491h4v1h-4zM358 491h1v1h-1zM320 491h1v1h-1zM338 491h4v1h-4zM344 491h1v1h-1zM243 489h1v4h-1zM303 492h1v1h-1zM279 492h3v1h-3zM267 492h5v1h-5zM256 492h7v1h-7zM275 492h3v1h-3zM344 492h6v1h-6zM323 492h1v1h-1zM319 492h2v1h-2zM358 492h3v1h-3zM351 492h1v1h-1zM283 492h9v1h-9zM328 492h1v1h-1zM308 491h1v3h-1zM314 492h1v2h-1zM342 492h1v2h-1zM302 493h1v1h-1zM271 493h1v1h-1zM262 493h1v1h-1zM318 493h1v1h-1zM256 493h2v1h-2zM344 493h1v1h-1zM321 493h2v1h-2zM267 493h1v1h-1zM355 492h1v3h-1zM289 493h1v2h-1zM327 493h1v2h-1zM275 493h2v2h-2zM342 494h2v1h-2zM267 494h5v1h-5zM256 494h7v1h-7zM321 494h1v1h-1zM301 494h1v1h-1zM265 491h1v5h-1zM361 493h1v3h-1zM313 494h1v2h-1zM326 495h1v1h-1zM287 495h4v1h-4zM335 492h1v5h-1zM350 493h1v4h-1zM284 493h1v4h-1zM279 493h2v4h-2zM348 493h1v4h-1zM242 493h1v4h-1zM256 495h3v2h-3zM275 495h3v2h-3zM300 495h1v2h-1zM271 495h1v2h-1zM354 495h1v2h-1zM341 495h1v2h-1zM267 495h1v2h-1zM261 495h2v2h-2zM325 496h1v1h-1zM245 496h2v1h-2zM362 496h3v1h-3zM307 494h1v4h-1zM343 495h1v3h-1zM289 496h1v2h-1zM312 496h1v2h-1zM360 496h1v2h-1zM246 497h2v1h-2zM267 497h5v1h-5zM354 497h2v1h-2zM299 497h1v1h-1zM256 497h7v1h-7zM362 497h1v1h-1zM364 497h1v1h-1zM284 497h3v1h-3zM278 497h1v1h-1zM274 497h2v2h-2zM340 497h1v2h-1zM334 497h1v2h-1zM349 497h1v2h-1zM330 497h1v2h-1zM324 497h1v2h-1zM336 497h1v2h-1zM353 498h1v1h-1zM286 498h6v1h-6zM270 498h2v1h-2zM262 498h1v1h-1zM362 498h3v1h-3zM359 498h1v1h-1zM256 498h2v1h-2zM279 498h2v1h-2zM298 498h1v1h-1zM355 498h1v1h-1zM247 498h2v1h-2zM267 498h1v1h-1zM283 498h2v1h-2zM264 496h1v4h-1zM241 497h1v3h-1zM347 497h1v3h-1zM311 498h1v2h-1zM342 498h1v2h-1zM306 498h1v2h-1zM281 499h1v1h-1zM337 499h3v1h-3zM330 499h4v1h-4zM272 499h1v1h-1zM356 499h4v1h-4zM323 499h5v1h-5zM257 499h1v1h-1zM297 499h6v1h-6zM349 499h4v1h-4zM266 499h1v1h-1zM261 499h2v1h-2zM304 509h4v1h-4zM317 509h4v1h-4zM271 509h1v1h-1zM326 509h6v1h-6zM288 509h1v1h-1zM243 510h4v1h-4zM317 510h1v1h-1zM272 510h1v1h-1zM326 510h1v1h-1zM266 510h1v1h-1zM276 510h8v1h-8zM304 510h1v1h-1zM287 510h4v1h-4zM260 509h2v3h-2zM287 511h1v1h-1zM243 511h1v1h-1zM290 511h1v1h-1zM308 510h1v3h-1zM267 511h1v2h-1zM278 512h3v1h-3zM289 512h1v1h-1zM286 512h1v1h-1zM269 512h6v1h-6zM258 512h5v1h-5zM320 510h1v4h-1zM325 511h1v3h-1zM246 511h1v3h-1zM242 512h1v2h-1zM280 513h1v1h-1zM278 513h1v1h-1zM286 513h7v1h-7zM303 511h1v4h-1zM316 511h1v4h-1zM307 513h1v2h-1zM278 514h3v1h-3zM335 514h2v1h-2zM331 514h3v1h-3zM343 514h2v1h-2zM339 514h3v1h-3zM324 514h1v1h-1zM260 513h2v3h-2zM289 514h1v2h-1zM286 514h1v2h-1zM245 514h1v2h-1zM292 514h1v2h-1zM342 515h2v1h-2zM302 515h1v1h-1zM309 515h5v1h-5zM324 515h5v1h-5zM331 515h2v1h-2zM278 515h4v1h-4zM339 515h2v1h-2zM334 515h2v1h-2zM306 515h1v1h-1zM271 513h2v4h-2zM337 515h1v2h-1zM266 515h1v2h-1zM331 516h1v1h-1zM256 516h9v1h-9zM339 516h1v1h-1zM302 516h4v1h-4zM329 516h1v1h-1zM244 516h1v1h-1zM286 516h7v1h-7zM319 514h1v4h-1zM345 515h1v3h-1zM334 516h1v2h-1zM342 516h1v2h-1zM302 517h1v1h-1zM269 517h5v1h-5zM337 517h2v1h-2zM315 515h1v4h-1zM243 517h1v2h-1zM259 517h3v2h-3zM329 517h2v2h-2zM344 518h1v1h-1zM281 516h1v4h-1zM278 516h1v4h-1zM289 517h1v3h-1zM286 517h1v3h-1zM292 517h1v3h-1zM304 517h1v3h-1zM258 519h1v1h-1zM308 519h5v1h-5zM242 519h1v1h-1zM260 519h3v1h-3zM338 518h1v3h-1zM336 518h1v3h-1zM330 519h1v2h-1zM328 519h1v2h-1zM267 519h1v2h-1zM241 520h1v1h-1zM248 520h2v1h-2zM278 520h4v1h-4zM286 520h7v1h-7zM276 511h1v11h-1zM318 518h1v4h-1zM333 518h1v4h-1zM341 518h1v4h-1zM301 518h1v4h-1zM344 519h3v3h-3zM263 520h1v2h-1zM257 520h1v2h-1zM336 521h2v1h-2zM323 521h1v1h-1zM278 521h1v1h-1zM249 521h2v1h-2zM283 511h1v12h-1zM271 518h2v5h-2zM314 519h1v4h-1zM281 521h1v2h-1zM240 521h1v2h-1zM327 521h1v2h-1zM292 521h1v2h-1zM266 521h1v2h-1zM264 522h1v1h-1zM276 522h2v1h-2zM321 522h3v1h-3zM256 522h1v1h-1zM317 522h1v1h-1zM250 522h2v1h-2zM260 520h2v4h-2zM305 520h1v4h-1zM289 521h1v3h-1zM285 521h1v3h-1zM329 521h1v3h-1zM337 522h1v2h-1zM340 522h1v2h-1zM300 522h1v2h-1zM335 522h1v2h-1zM343 522h1v2h-1zM332 522h1v2h-1zM321 523h6v1h-6zM314 523h4v1h-4zM268 523h7v1h-7zM291 523h2v1h-2zM276 523h8v1h-8zM239 523h5v1h-5zM288 532h1v1h-1zM271 532h1v1h-1zM304 532h4v1h-4zM317 532h4v1h-4zM326 532h6v1h-6zM277 532h1v2h-1zM326 533h1v1h-1zM272 533h1v1h-1zM242 533h6v1h-6zM304 533h1v1h-1zM317 533h1v1h-1zM266 533h1v1h-1zM287 533h4v1h-4zM283 532h1v3h-1zM287 534h1v1h-1zM246 534h1v1h-1zM278 534h4v1h-4zM290 534h1v1h-1zM260 532h2v4h-2zM307 533h1v3h-1zM267 534h1v2h-1zM289 535h1v1h-1zM286 535h1v1h-1zM279 535h1v1h-1zM320 533h1v4h-1zM325 534h1v3h-1zM303 534h1v3h-1zM276 534h1v3h-1zM282 535h2v2h-2zM245 535h1v2h-1zM269 536h6v1h-6zM258 536h5v1h-5zM286 536h7v1h-7zM316 534h1v4h-1zM278 536h1v2h-1zM335 537h2v1h-2zM331 537h3v1h-3zM343 537h2v1h-2zM280 537h4v1h-4zM339 537h3v1h-3zM324 537h1v1h-1zM244 537h1v1h-1zM289 537h1v2h-1zM260 537h2v2h-2zM286 537h1v2h-1zM292 537h1v2h-1zM275 537h2v2h-2zM342 538h2v1h-2zM309 538h5v1h-5zM278 538h2v1h-2zM324 538h5v1h-5zM331 538h2v1h-2zM243 538h2v1h-2zM339 538h2v1h-2zM334 538h2v1h-2zM271 537h2v3h-2zM337 538h1v2h-1zM266 538h1v2h-1zM331 539h1v1h-1zM256 539h9v1h-9zM339 539h1v1h-1zM329 539h1v1h-1zM244 539h1v1h-1zM286 539h7v1h-7zM302 537h1v4h-1zM319 537h1v4h-1zM345 538h1v3h-1zM334 539h1v2h-1zM342 539h1v2h-1zM279 539h1v2h-1zM269 540h5v1h-5zM337 540h2v1h-2zM315 538h1v4h-1zM259 540h3v2h-3zM245 540h1v2h-1zM329 540h2v2h-2zM278 541h3v1h-3zM344 541h1v1h-1zM289 540h1v3h-1zM286 540h1v3h-1zM292 540h1v3h-1zM258 542h1v1h-1zM308 542h5v1h-5zM260 542h3v1h-3zM282 538h2v6h-2zM338 541h1v3h-1zM336 541h1v3h-1zM267 542h1v2h-1zM330 542h1v2h-1zM244 542h1v2h-1zM328 542h1v2h-1zM279 542h1v2h-1zM248 543h2v1h-2zM286 543h7v1h-7zM318 541h1v4h-1zM333 541h1v4h-1zM341 541h1v4h-1zM344 542h3v3h-3zM263 543h1v2h-1zM257 543h1v2h-1zM305 543h1v2h-1zM336 544h2v1h-2zM279 544h3v1h-3zM323 544h1v1h-1zM249 544h2v1h-2zM301 541h1v5h-1zM271 541h2v5h-2zM314 542h1v4h-1zM240 543h1v3h-1zM243 544h1v2h-1zM327 544h1v2h-1zM283 544h1v2h-1zM292 544h1v2h-1zM266 544h1v2h-1zM264 545h1v1h-1zM321 545h3v1h-3zM278 545h2v1h-2zM304 545h1v1h-1zM256 545h1v1h-1zM317 545h1v1h-1zM250 545h2v1h-2zM276 539h1v8h-1zM260 543h2v4h-2zM289 544h1v3h-1zM285 544h1v3h-1zM329 544h1v3h-1zM337 545h1v2h-1zM340 545h1v2h-1zM335 545h1v2h-1zM343 545h1v2h-1zM332 545h1v2h-1zM321 546h6v1h-6zM314 546h4v1h-4zM240 546h3v1h-3zM268 546h7v1h-7zM282 546h2v1h-2zM291 546h2v1h-2zM301 546h4v1h-4z"/>
<path fill="rgb(255,255,0)" d="M668 216h1v1h-1zM230 216h1v1h-1zM144 216h1v1h-1zM297 216h1v1h-1zM536 216h1v1h-1zM660 217h7v1h-7zM136 217h7v1h-7zM289 217h7v1h-7zM528 217h7v1h-7zM222 217h7v1h-7zM221 218h1v1h-1zM143 218h2v1h-2zM229 218h2v1h-2zM535 218h2v1h-2zM135 218h1v1h-1zM527 218h1v1h-1zM296 218h2v1h-2zM288 218h1v1h-1zM659 218h1v1h-1zM667 218h2v1h-2zM530 220h6v1h-6zM291 220h6v1h-6zM662 220h6v1h-6zM138 220h6v1h-6zM132 221h13v1h-13zM218 221h13v1h-13zM524 221h13v1h-13zM656 221h13v1h-13zM285 221h13v1h-13zM657 224h12v1h-12zM133 224h12v1h-12zM286 224h12v1h-12zM219 224h12v1h-12zM132 226h13v1h-13zM218 226h13v1h-13zM524 226h13v1h-13zM656 226h13v1h-13zM285 226h13v1h-13zM657 228h12v1h-12zM133 228h12v1h-12zM286 228h12v1h-12zM567 228h7v1h-7zM219 228h12v1h-12zM413 228h7v1h-7zM525 228h12v1h-12zM573 229h1v1h-1zM658 229h1v1h-1zM567 229h1v1h-1zM134 229h1v1h-1zM220 229h1v1h-1zM526 229h1v1h-1zM419 229h1v1h-1zM413 229h1v1h-1zM287 229h1v1h-1zM132 230h13v1h-13zM218 230h13v1h-13zM524 230h13v1h-13zM567 230h7v1h-7zM656 230h13v1h-13zM413 230h7v1h-7zM285 230h13v1h-13zM658 231h1v1h-1zM570 231h1v1h-1zM134 231h1v1h-1zM220 231h1v1h-1zM287 231h2v1h-2zM526 231h1v1h-1zM291 231h1v1h-1zM416 231h1v1h-1zM296 231h1v2h-1zM567 231h1v2h-1zM224 231h1v2h-1zM530 231h1v2h-1zM667 231h1v2h-1zM662 231h1v2h-1zM229 231h1v2h-1zM535 231h1v2h-1zM143 231h1v2h-1zM138 231h1v2h-1zM571 232h3v1h-3zM289 232h3v1h-3zM569 232h1v1h-1zM527 232h2v1h-2zM659 232h2v1h-2zM417 232h3v1h-3zM221 232h2v1h-2zM135 232h2v1h-2zM413 231h1v3h-1zM415 232h1v2h-1zM666 233h2v1h-2zM142 233h2v1h-2zM295 233h2v1h-2zM661 233h3v1h-3zM291 233h2v1h-2zM228 233h2v1h-2zM137 233h3v1h-3zM223 233h3v1h-3zM419 233h1v1h-1zM532 234h4v1h-4zM137 234h1v1h-1zM413 234h4v1h-4zM226 234h4v1h-4zM223 234h1v1h-1zM529 234h1v1h-1zM572 234h2v1h-2zM418 234h2v1h-2zM140 234h4v1h-4zM293 234h4v1h-4zM290 234h1v1h-1zM661 234h1v1h-1zM664 234h4v1h-4zM567 234h4v1h-4zM224 235h1v1h-1zM226 235h2v1h-2zM530 235h1v1h-1zM140 235h2v1h-2zM293 235h2v1h-2zM567 235h5v1h-5zM662 235h1v1h-1zM413 235h5v1h-5zM291 235h1v1h-1zM532 235h2v1h-2zM664 235h2v1h-2zM138 235h1v1h-1zM418 236h1v1h-1zM658 236h3v1h-3zM139 236h1v1h-1zM568 236h3v1h-3zM292 236h1v1h-1zM134 236h3v1h-3zM414 236h3v1h-3zM526 236h3v1h-3zM220 236h3v1h-3zM572 236h1v1h-1zM663 236h1v1h-1zM225 236h1v1h-1zM531 236h1v1h-1zM287 236h3v1h-3zM568 237h1v1h-1zM287 237h7v1h-7zM658 237h7v1h-7zM571 237h2v1h-2zM134 237h7v1h-7zM414 237h1v1h-1zM526 237h7v1h-7zM220 237h7v1h-7zM417 237h2v1h-2zM419 238h2v1h-2zM227 238h3v1h-3zM139 238h1v1h-1zM533 238h3v1h-3zM292 238h1v1h-1zM569 238h3v1h-3zM294 238h3v1h-3zM415 238h3v1h-3zM141 238h3v1h-3zM573 238h2v1h-2zM663 238h1v1h-1zM225 238h1v1h-1zM665 238h3v1h-3zM531 238h1v1h-1zM658 238h1v2h-1zM134 238h1v2h-1zM220 238h1v2h-1zM526 238h1v2h-1zM287 238h1v2h-1zM664 239h1v1h-1zM532 239h1v1h-1zM226 239h1v1h-1zM293 239h1v1h-1zM140 239h1v1h-1zM296 239h1v2h-1zM667 239h1v2h-1zM229 239h1v2h-1zM535 239h1v2h-1zM143 239h1v2h-1zM533 240h1v1h-1zM526 240h2v1h-2zM287 240h2v1h-2zM294 240h1v1h-1zM658 240h2v1h-2zM141 240h1v1h-1zM665 240h1v1h-1zM134 240h2v1h-2zM220 240h2v1h-2zM227 240h1v1h-1zM666 241h2v1h-2zM142 241h2v1h-2zM295 241h2v1h-2zM658 241h3v1h-3zM228 241h2v1h-2zM134 241h3v1h-3zM220 241h3v1h-3zM287 241h3v1h-3zM296 242h1v1h-1zM222 242h6v1h-6zM667 242h1v1h-1zM660 242h6v1h-6zM229 242h1v1h-1zM143 242h1v1h-1zM136 242h6v1h-6zM289 242h6v1h-6zM666 243h2v1h-2zM142 243h2v1h-2zM295 243h2v1h-2zM224 243h1v1h-1zM228 243h2v1h-2zM662 243h1v1h-1zM291 243h1v1h-1zM138 243h1v1h-1zM658 242h1v3h-1zM134 242h1v3h-1zM220 242h1v3h-1zM287 242h1v3h-1zM526 244h1v1h-1zM296 244h1v2h-1zM667 244h1v2h-1zM229 244h1v2h-1zM535 244h1v2h-1zM143 244h1v2h-1zM526 245h2v1h-2zM290 245h2v1h-2zM661 245h2v1h-2zM287 245h2v1h-2zM658 245h2v1h-2zM137 245h2v1h-2zM223 245h2v1h-2zM134 245h2v1h-2zM529 245h2v1h-2zM220 245h2v1h-2zM292 246h4v1h-4zM222 246h2v1h-2zM663 246h4v1h-4zM660 246h2v1h-2zM528 246h2v1h-2zM225 246h4v1h-4zM136 246h2v1h-2zM289 246h2v1h-2zM531 246h4v1h-4zM139 246h4v1h-4zM662 247h2v1h-2zM294 247h2v1h-2zM141 247h2v1h-2zM665 247h2v1h-2zM136 247h1v1h-1zM138 247h2v1h-2zM291 247h2v1h-2zM222 247h1v1h-1zM528 247h1v1h-1zM227 247h2v1h-2zM660 247h1v1h-1zM533 247h2v1h-2zM224 247h2v1h-2zM530 247h2v1h-2zM289 247h1v1h-1zM140 248h3v1h-3zM222 248h2v1h-2zM664 248h3v1h-3zM528 248h2v1h-2zM660 248h2v1h-2zM532 248h3v1h-3zM136 248h2v1h-2zM289 248h2v1h-2zM226 248h3v1h-3zM293 248h3v1h-3zM224 249h6v1h-6zM530 249h6v1h-6zM291 249h6v1h-6zM662 249h6v1h-6zM138 249h6v1h-6zM668 250h1v1h-1zM230 250h1v1h-1zM144 250h1v1h-1zM297 250h1v1h-1zM536 250h1v1h-1zM208 263h3v1h-3zM208 264h1v1h-1zM207 265h1v1h-1zM335 265h2v1h-2zM338 265h3v1h-3zM337 266h2v1h-2zM207 266h3v1h-3zM334 266h1v1h-1zM535 266h3v1h-3zM532 266h2v1h-2zM534 267h2v1h-2zM207 267h1v1h-1zM600 267h1v1h-1zM336 267h2v1h-2zM531 267h1v1h-1zM533 268h2v1h-2zM336 268h4v1h-4zM209 267h1v3h-1zM599 268h2v2h-2zM206 268h1v2h-1zM335 269h1v1h-1zM533 269h4v1h-4zM340 269h1v1h-1zM207 270h2v1h-2zM598 270h1v1h-1zM532 270h1v1h-1zM600 270h1v1h-1zM182 270h7v1h-7zM537 270h1v1h-1zM339 270h1v2h-1zM334 270h1v2h-1zM598 271h2v1h-2zM337 271h1v1h-1zM536 271h1v2h-1zM184 271h2v2h-2zM531 271h1v2h-1zM656 272h3v1h-3zM333 272h6v1h-6zM654 272h1v1h-1zM597 272h4v1h-4zM534 272h1v1h-1zM188 271h1v3h-1zM530 273h6v1h-6zM653 273h2v1h-2zM183 273h3v1h-3zM656 273h1v1h-1zM599 273h1v2h-1zM653 274h3v1h-3zM654 275h4v1h-4zM652 275h1v1h-1zM187 274h1v3h-1zM184 274h2v3h-2zM314 276h1v1h-1zM658 276h1v1h-1zM400 276h2v1h-2zM389 276h1v1h-1zM316 276h3v1h-3zM181 276h1v1h-1zM652 276h2v1h-2zM391 276h3v1h-3zM493 276h6v1h-6zM395 276h2v1h-2zM651 277h4v1h-4zM493 277h1v1h-1zM182 277h2v1h-2zM313 277h2v1h-2zM316 277h1v1h-1zM388 277h3v1h-3zM185 277h2v1h-2zM399 277h1v1h-1zM496 277h1v1h-1zM498 277h1v2h-1zM657 277h1v2h-1zM655 278h1v1h-1zM495 278h1v1h-1zM492 278h1v1h-1zM313 278h3v1h-3zM387 278h1v1h-1zM401 277h1v3h-1zM393 277h2v3h-2zM398 278h1v2h-1zM653 278h1v2h-1zM389 278h2v2h-2zM312 279h1v1h-1zM655 279h2v1h-2zM496 279h2v1h-2zM492 279h3v1h-3zM314 279h4v1h-4zM318 280h1v1h-1zM492 280h1v1h-1zM312 280h2v1h-2zM399 280h3v1h-3zM396 277h1v5h-1zM311 281h4v1h-4zM494 280h2v3h-2zM392 280h2v3h-2zM497 280h1v3h-1zM390 280h1v3h-1zM491 281h1v2h-1zM317 281h1v2h-1zM400 281h1v2h-1zM396 282h3v1h-3zM315 282h1v1h-1zM388 280h1v4h-1zM313 282h1v2h-1zM397 283h3v1h-3zM393 283h3v1h-3zM315 283h2v1h-2zM390 283h2v1h-2zM495 283h2v1h-2zM492 283h2v1h-2zM358 291h3v1h-3zM363 291h1v1h-1zM355 291h2v1h-2zM357 292h1v1h-1zM354 292h1v1h-1zM362 292h2v2h-2zM360 292h1v2h-1zM356 293h2v2h-2zM360 294h2v1h-2zM363 294h1v1h-1zM355 295h1v1h-1zM357 295h6v1h-6zM359 296h5v1h-5zM354 296h1v2h-1zM359 297h1v1h-1zM362 297h1v2h-1zM353 298h6v1h-6zM432 303h2v1h-2zM426 303h1v1h-1zM430 303h1v1h-1zM429 304h3v1h-3zM425 304h2v2h-2zM429 305h1v1h-1zM431 305h1v2h-1zM428 306h2v1h-2zM426 306h1v1h-1zM424 306h1v1h-1zM424 307h2v1h-2zM428 307h3v1h-3zM423 308h8v1h-8zM433 304h1v6h-1zM430 309h1v1h-1zM428 309h1v2h-1zM425 309h1v2h-1zM430 310h3v1h-3zM570 359h7v1h-7zM570 361h7v1h-7zM706 362h7v1h-7zM398 362h7v1h-7zM244 362h7v1h-7zM706 364h7v1h-7zM570 364h7v1h-7zM244 364h7v1h-7zM398 364h7v1h-7zM706 367h7v1h-7zM398 367h7v1h-7zM564 367h13v1h-13zM244 367h7v1h-7zM565 369h6v1h-6zM573 369h4v1h-4zM238 370h13v1h-13zM392 370h13v1h-13zM700 370h13v1h-13zM393 372h6v1h-6zM401 372h4v1h-4zM701 372h6v1h-6zM709 372h4v1h-4zM247 372h4v1h-4zM566 372h5v1h-5zM239 372h6v1h-6zM570 373h3v1h-3zM566 373h1v2h-1zM570 374h1v2h-1zM566 375h2v1h-2zM702 375h2v1h-2zM244 375h3v1h-3zM394 375h2v1h-2zM573 374h1v3h-1zM396 376h2v1h-2zM704 376h2v1h-2zM568 376h2v1h-2zM240 375h1v3h-1zM243 376h1v2h-1zM706 377h2v1h-2zM398 377h2v1h-2zM702 376h1v3h-1zM394 376h1v3h-1zM247 376h1v3h-1zM400 378h2v1h-2zM708 378h2v1h-2zM241 378h3v1h-3zM243 379h4v1h-4zM225 420h1v2h-1zM219 422h2v1h-2zM222 422h4v1h-4zM216 422h1v1h-1zM222 423h2v1h-2zM215 423h2v1h-2zM218 423h1v2h-1zM222 424h1v1h-1zM214 424h2v1h-2zM225 423h1v3h-1zM222 425h2v1h-2zM217 425h3v1h-3zM215 425h1v2h-1zM224 426h1v1h-1zM217 426h1v1h-1zM219 426h1v2h-1zM215 427h2v1h-2zM223 427h1v2h-1zM219 428h3v1h-3zM216 428h1v1h-1zM214 428h1v2h-1zM358 429h6v1h-6zM666 429h6v1h-6zM220 429h3v1h-3zM216 429h3v1h-3zM228 427h1v4h-1zM358 430h1v1h-1zM666 430h1v1h-1zM668 430h2v1h-2zM363 430h1v1h-1zM360 430h2v1h-2zM671 430h1v1h-1zM225 427h1v5h-1zM222 430h1v2h-1zM227 431h2v1h-2zM368 427h1v6h-1zM676 427h1v6h-1zM673 429h1v4h-1zM365 429h1v4h-1zM362 431h1v2h-1zM359 431h1v2h-1zM670 431h1v2h-1zM667 431h1v2h-1zM669 433h1v1h-1zM358 433h1v1h-1zM666 433h1v1h-1zM528 433h1v1h-1zM524 433h3v1h-3zM361 433h1v1h-1zM527 434h2v1h-2zM525 434h1v1h-1zM668 434h1v2h-1zM360 434h1v2h-1zM357 434h1v2h-1zM665 434h1v2h-1zM525 435h3v1h-3zM536 431h1v6h-1zM533 433h1v4h-1zM664 436h6v1h-6zM356 436h6v1h-6zM524 436h2v1h-2zM371 434h1v4h-1zM679 434h1v4h-1zM525 437h1v1h-1zM368 434h1v5h-1zM676 434h1v5h-1zM673 436h1v3h-1zM527 436h1v3h-1zM365 436h1v3h-1zM370 438h2v1h-2zM678 438h2v1h-2zM524 438h1v2h-1zM522 439h1v1h-1zM526 439h1v2h-1zM522 440h3v1h-3zM539 438h1v4h-1zM536 438h1v5h-1zM533 440h1v3h-1zM538 442h2v1h-2z"/>
<path fill="rgb(255,0,0)" d="M546 221h1v12h-1zM443 221h1v12h-1zM628 223h1v10h-1zM283 223h1v10h-1zM345 223h1v10h-1zM196 226h1v7h-1zM318 233h14v1h-14zM702 233h7v1h-7zM233 233h14v1h-14zM423 233h3v1h-3zM195 233h14v1h-14zM293 233h2v1h-2zM300 233h9v1h-9zM297 233h2v1h-2zM538 233h96v1h-96zM400 233h13v1h-13zM420 233h2v1h-2zM414 233h1v1h-1zM430 233h49v1h-49zM230 233h2v1h-2zM416 233h3v1h-3zM248 233h4v1h-4zM490 233h14v1h-14zM644 233h13v1h-13zM515 233h22v1h-22zM670 233h30v1h-30zM276 233h15v1h-15zM343 233h52v1h-52zM253 233h16v1h-16zM219 233h4v1h-4zM396 233h3v1h-3zM151 233h32v1h-32zM226 233h2v1h-2zM196 234h1v7h-1zM628 234h1v9h-1zM283 234h1v9h-1zM345 234h1v9h-1zM546 234h1v11h-1zM443 234h1v11h-1zM536 361h1v3h-1zM368 361h1v8h-1zM676 361h1v8h-1zM225 374h1v1h-1zM536 367h1v28h-1zM368 372h1v23h-1zM676 372h1v23h-1zM225 378h1v17h-1zM203 395h2v1h-2zM388 395h15v1h-15zM653 395h39v1h-39zM558 395h11v1h-11zM240 395h10v1h-10zM208 395h29v1h-29zM345 395h40v1h-40zM502 395h3v1h-3zM334 395h8v1h-8zM695 395h14v1h-14zM508 395h47v1h-47zM642 395h8v1h-8zM225 396h1v17h-1zM225 416h1v2h-1zM368 396h1v23h-1zM676 396h1v23h-1zM536 396h1v28h-1zM368 422h1v5h-1zM676 422h1v5h-1zM536 427h1v3h-1z"/>
<path fill="rgb(255,255,255)" d="M3 0h1v21h-1zM639 183h3v7h-3zM466 191h3v6h-3zM171 195h3v6h-3zM496 202h67v1h-67zM426 202h68v1h-68zM312 198h3v6h-3zM358 203h30v1h-30zM495 203h41v1h-41zM602 203h10v1h-10zM561 203h38v1h-38zM391 203h103v1h-103zM426 204h111v1h-111zM538 204h25v1h-25zM683 204h1v1h-1zM392 204h28v1h-28zM685 204h2v1h-2zM688 204h1v1h-1zM678 204h1v1h-1zM580 204h18v1h-18zM691 204h5v1h-5zM603 204h9v2h-9zM358 204h29v2h-29zM577 205h21v1h-21zM696 205h1v1h-1zM392 205h30v1h-30zM423 205h7v1h-7zM559 205h17v1h-17zM356 203h1v4h-1zM613 203h1v4h-1zM697 206h1v1h-1zM637 207h12v1h-12zM269 207h11v1h-11zM335 207h1v1h-1zM281 207h53v1h-53zM652 207h47v1h-47zM337 207h20v1h-20zM650 207h1v1h-1zM613 207h23v2h-23zM303 208h32v1h-32zM269 208h3v1h-3zM697 208h3v1h-3zM336 208h21v1h-21zM651 208h17v1h-17zM637 208h13v1h-13zM166 209h1v1h-1zM262 209h37v1h-37zM613 209h56v1h-56zM214 209h28v1h-28zM174 209h5v1h-5zM171 209h1v1h-1zM161 209h1v1h-1zM168 209h2v1h-2zM245 209h14v1h-14zM260 209h1v1h-1zM300 209h57v1h-57zM670 209h31v1h-31zM611 206h1v5h-1zM358 206h1v5h-1zM212 209h1v2h-1zM697 210h5v1h-5zM246 210h14v1h-14zM356 210h1v1h-1zM261 210h11v1h-11zM236 210h5v1h-5zM613 210h1v1h-1zM159 210h2v1h-2zM246 211h26v1h-26zM233 211h8v1h-8zM212 211h20v1h-20zM698 211h4v1h-4zM158 211h1v1h-1zM157 212h38v1h-38zM198 212h17v1h-17zM196 212h1v1h-1zM156 213h40v1h-40zM197 213h18v1h-18zM155 214h60v1h-60zM547 222h3v1h-3zM440 222h3v1h-3zM699 212h3v12h-3zM439 223h4v1h-4zM547 223h4v1h-4zM538 222h8v3h-8zM444 222h93v3h-93zM284 224h2v1h-2zM625 224h3v1h-3zM438 224h5v1h-5zM547 224h5v1h-5zM346 224h3v1h-3zM298 224h1v1h-1zM629 224h28v1h-28zM280 224h3v1h-3zM154 215h5v11h-5zM284 225h15v1h-15zM278 225h5v1h-5zM629 225h40v1h-40zM437 225h5v1h-5zM623 225h5v1h-5zM548 225h5v1h-5zM346 225h5v1h-5zM300 224h45v3h-45zM670 224h32v3h-32zM277 226h6v1h-6zM346 226h6v1h-6zM197 226h2v1h-2zM284 226h1v1h-1zM549 226h5v1h-5zM298 226h1v1h-1zM436 226h5v1h-5zM629 226h27v1h-27zM622 226h6v1h-6zM276 227h5v1h-5zM621 227h5v1h-5zM197 227h4v1h-4zM435 227h4v1h-4zM551 227h4v1h-4zM348 227h5v1h-5zM154 226h42v3h-42zM620 228h4v1h-4zM552 228h4v1h-4zM275 228h4v1h-4zM434 228h4v1h-4zM197 228h5v1h-5zM350 228h4v1h-4zM199 229h4v1h-4zM433 229h4v1h-4zM275 229h3v1h-3zM553 229h4v1h-4zM620 229h3v1h-3zM351 229h3v1h-3zM274 230h4v1h-4zM619 230h4v1h-4zM200 230h3v1h-3zM432 230h4v1h-4zM554 230h4v1h-4zM351 230h4v1h-4zM699 227h3v5h-3zM559 206h4v27h-4zM356 211h3v22h-3zM611 211h3v22h-3zM154 229h3v4h-3zM201 231h3v2h-3zM352 231h3v2h-3zM274 231h3v2h-3zM555 231h3v2h-3zM432 231h3v2h-3zM619 231h3v2h-3zM699 232h2v1h-2zM274 233h2v1h-2zM356 234h3v1h-3zM201 234h3v1h-3zM611 234h3v1h-3zM352 234h3v1h-3zM555 234h3v1h-3zM559 234h4v1h-4zM619 234h3v1h-3zM274 234h3v2h-3zM432 234h3v2h-3zM201 235h1v1h-1zM203 235h1v1h-1zM621 235h1v1h-1zM556 235h2v2h-2zM619 235h1v2h-1zM353 235h2v2h-2zM274 236h4v1h-4zM432 236h4v1h-4zM200 236h2v1h-2zM554 236h1v1h-1zM154 234h3v4h-3zM621 236h2v2h-2zM351 236h1v2h-1zM433 237h4v1h-4zM275 237h3v1h-3zM553 237h2v1h-2zM556 237h1v1h-1zM199 237h3v1h-3zM353 237h1v2h-1zM552 238h3v1h-3zM621 238h3v1h-3zM350 238h2v1h-2zM275 238h4v1h-4zM434 238h4v1h-4zM197 238h5v1h-5zM699 234h3v6h-3zM276 239h5v1h-5zM348 239h4v1h-4zM621 239h5v1h-5zM197 239h4v1h-4zM435 239h4v1h-4zM551 239h4v1h-4zM154 238h42v3h-42zM277 240h6v1h-6zM622 240h6v1h-6zM346 240h6v1h-6zM660 240h5v1h-5zM197 240h2v1h-2zM549 240h5v1h-5zM289 240h5v1h-5zM436 240h5v1h-5zM666 240h1v1h-1zM295 240h1v1h-1zM278 241h5v1h-5zM290 241h5v1h-5zM661 241h5v1h-5zM623 241h5v1h-5zM346 241h5v1h-5zM437 241h6v1h-6zM547 241h6v1h-6zM629 240h29v3h-29zM300 240h45v3h-45zM670 240h32v3h-32zM668 240h1v3h-1zM284 240h3v3h-3zM297 240h2v3h-2zM625 242h3v1h-3zM288 242h1v1h-1zM438 242h5v1h-5zM659 242h1v1h-1zM346 242h3v1h-3zM547 242h5v1h-5zM280 242h3v1h-3zM666 242h1v1h-1zM295 242h1v1h-1zM538 241h8v3h-8zM444 241h93v3h-93zM439 243h4v1h-4zM547 243h4v1h-4zM212 215h3v36h-3zM154 241h5v10h-5zM155 251h47v1h-47zM156 252h46v1h-46zM203 251h12v3h-12zM157 253h45v1h-45zM269 212h3v43h-3zM699 243h3v12h-3zM212 254h3v1h-3zM212 255h20v1h-20zM698 255h4v1h-4zM233 255h14v1h-14zM356 235h1v22h-1zM613 235h1v22h-1zM252 255h20v2h-20zM236 256h11v1h-11zM697 256h5v1h-5zM212 256h2v1h-2zM212 257h1v1h-1zM300 257h52v1h-52zM214 257h34v1h-34zM251 257h48v1h-48zM621 257h48v1h-48zM670 257h31v1h-31zM269 258h3v1h-3zM697 258h3v1h-3zM621 258h47v1h-47zM304 258h48v1h-48zM613 257h7v3h-7zM353 257h4v3h-4zM271 259h81v1h-81zM269 259h1v1h-1zM621 259h78v1h-78zM426 206h4v55h-4zM561 235h2v26h-2zM611 235h1v26h-1zM358 235h1v26h-1zM171 255h3v6h-3zM559 235h1v27h-1zM561 261h15v1h-15zM397 261h25v1h-25zM423 261h7v1h-7zM577 261h15v1h-15zM358 261h34v2h-34zM597 261h15v2h-15zM426 262h111v1h-111zM561 262h2v1h-2zM556 262h4v1h-4zM397 262h23v1h-23zM580 262h12v1h-12zM538 262h17v1h-17zM356 260h1v4h-1zM613 260h1v4h-1zM358 263h35v1h-35zM396 263h140v1h-140zM561 263h32v1h-32zM596 263h16v1h-16zM561 264h2v1h-2zM556 264h4v1h-4zM426 264h129v1h-129zM312 260h3v6h-3zM639 260h3v6h-3zM466 268h3v7h-3zM531 364h11v1h-11zM527 365h19v1h-19zM524 366h25v1h-25zM542 367h9v1h-9zM522 367h9v1h-9zM520 368h7v1h-7zM546 368h7v1h-7zM548 369h6v1h-6zM519 369h6v1h-6zM363 369h11v1h-11zM671 369h11v1h-11zM550 370h6v1h-6zM360 370h17v1h-17zM668 370h17v1h-17zM517 370h6v1h-6zM665 371h23v1h-23zM357 371h23v1h-23zM552 371h5v1h-5zM516 371h5v1h-5zM355 372h9v1h-9zM553 372h5v1h-5zM515 372h5v1h-5zM663 372h9v1h-9zM681 372h9v1h-9zM373 372h9v1h-9zM555 373h4v1h-4zM514 373h4v1h-4zM354 373h6v1h-6zM685 373h6v1h-6zM662 373h6v1h-6zM377 373h6v1h-6zM556 374h4v1h-4zM352 374h6v1h-6zM513 374h4v1h-4zM379 374h6v1h-6zM687 374h6v1h-6zM660 374h6v1h-6zM351 375h5v1h-5zM381 375h5v1h-5zM557 375h4v1h-4zM659 375h5v1h-5zM512 375h4v1h-4zM221 375h9v1h-9zM689 375h5v1h-5zM690 376h5v1h-5zM558 376h4v1h-4zM350 376h5v1h-5zM658 376h5v1h-5zM382 376h5v1h-5zM218 376h15v1h-15zM511 376h4v1h-4zM657 377h4v1h-4zM692 377h4v1h-4zM559 377h3v1h-3zM511 377h3v1h-3zM216 377h19v1h-19zM349 377h4v1h-4zM384 377h4v1h-4zM230 378h7v1h-7zM656 378h4v1h-4zM693 378h4v1h-4zM348 378h4v1h-4zM385 378h4v1h-4zM510 378h4v1h-4zM214 378h7v1h-7zM559 378h4v1h-4zM509 379h4v1h-4zM386 379h4v1h-4zM694 379h4v1h-4zM213 379h5v1h-5zM560 379h4v1h-4zM347 379h4v1h-4zM233 379h5v1h-5zM655 379h4v1h-4zM347 380h3v1h-3zM387 380h3v1h-3zM235 380h4v1h-4zM561 380h3v1h-3zM695 380h3v1h-3zM655 380h3v1h-3zM509 380h3v1h-3zM212 380h4v1h-4zM561 381h4v1h-4zM211 381h4v1h-4zM346 381h4v1h-4zM236 381h4v1h-4zM654 381h4v1h-4zM387 381h4v1h-4zM695 381h4v1h-4zM508 381h4v1h-4zM562 382h3v1h-3zM508 382h3v1h-3zM210 382h4v1h-4zM345 382h4v1h-4zM653 382h4v1h-4zM388 382h4v1h-4zM237 382h4v1h-4zM696 382h4v1h-4zM653 383h3v1h-3zM507 383h4v1h-4zM697 383h3v1h-3zM238 383h4v1h-4zM389 383h3v1h-3zM562 383h4v1h-4zM345 383h3v1h-3zM209 383h4v1h-4zM239 384h4v1h-4zM652 384h4v1h-4zM208 384h4v1h-4zM344 384h4v1h-4zM389 384h4v1h-4zM697 384h4v1h-4zM563 384h3v2h-3zM507 384h3v2h-3zM240 385h3v1h-3zM208 385h3v1h-3zM390 385h3v2h-3zM652 385h3v2h-3zM344 385h3v2h-3zM698 385h3v2h-3zM564 386h3v1h-3zM241 386h3v2h-3zM207 386h3v2h-3zM391 387h3v1h-3zM699 387h3v1h-3zM555 387h12v1h-12zM385 388h11v1h-11zM692 388h10v1h-10zM237 388h9v1h-9zM555 388h11v1h-11zM506 386h3v4h-3zM343 387h3v3h-3zM651 387h3v3h-3zM237 389h8v1h-8zM555 389h12v1h-12zM385 389h10v1h-10zM692 389h9v1h-9zM206 388h3v3h-3zM385 390h11v1h-11zM342 390h4v1h-4zM650 390h4v1h-4zM692 390h10v1h-10zM237 390h9v1h-9zM505 390h3v6h-3zM650 391h3v5h-3zM205 391h3v5h-3zM342 391h3v5h-3zM555 390h3v7h-3zM692 391h3v6h-3zM385 391h3v6h-3zM237 391h3v9h-3zM652 396h1v4h-1zM207 396h1v4h-1zM205 396h1v4h-1zM344 396h1v4h-1zM505 396h1v5h-1zM507 396h1v5h-1zM342 396h1v5h-1zM650 396h1v5h-1zM387 397h1v4h-1zM694 397h1v4h-1zM237 400h9v1h-9zM557 397h1v5h-1zM237 401h8v1h-8zM387 401h9v1h-9zM694 401h8v1h-8zM207 400h2v3h-2zM387 402h8v1h-8zM557 402h10v1h-10zM237 402h9v1h-9zM694 402h7v1h-7zM692 397h1v7h-1zM385 397h1v7h-1zM652 400h2v4h-2zM344 400h2v4h-2zM557 403h9v1h-9zM387 403h9v1h-9zM694 403h8v1h-8zM555 397h1v8h-1zM507 401h2v4h-2zM241 403h3v2h-3zM207 403h3v2h-3zM557 404h10v1h-10zM698 404h3v2h-3zM390 404h3v2h-3zM652 404h3v2h-3zM344 404h3v2h-3zM240 405h3v1h-3zM208 405h3v1h-3zM563 405h3v2h-3zM507 405h3v2h-3zM239 406h4v1h-4zM652 406h4v1h-4zM208 406h4v1h-4zM344 406h4v1h-4zM389 406h4v1h-4zM697 406h4v1h-4zM653 407h3v1h-3zM507 407h4v1h-4zM697 407h3v1h-3zM239 407h3v1h-3zM389 407h3v1h-3zM562 407h4v1h-4zM345 407h3v1h-3zM209 407h4v1h-4zM562 408h3v1h-3zM237 408h1v1h-1zM508 408h3v1h-3zM210 408h4v1h-4zM345 408h4v1h-4zM653 408h4v1h-4zM388 408h4v1h-4zM239 408h2v1h-2zM696 408h4v1h-4zM561 409h4v1h-4zM211 409h4v1h-4zM346 409h4v1h-4zM236 409h2v1h-2zM654 409h4v1h-4zM239 409h1v1h-1zM387 409h4v1h-4zM695 409h4v1h-4zM508 409h4v1h-4zM347 410h3v1h-3zM561 410h3v1h-3zM695 410h3v1h-3zM655 410h3v1h-3zM509 410h3v1h-3zM235 410h3v1h-3zM212 410h4v1h-4zM387 410h3v2h-3zM509 411h4v1h-4zM694 411h4v1h-4zM213 411h5v1h-5zM560 411h4v1h-4zM347 411h4v1h-4zM233 411h5v1h-5zM655 411h4v1h-4zM230 412h7v1h-7zM656 412h4v1h-4zM348 412h4v1h-4zM510 412h4v1h-4zM387 412h2v1h-2zM214 412h7v1h-7zM559 412h4v1h-4zM694 412h3v1h-3zM385 412h1v1h-1zM657 413h4v1h-4zM694 413h2v1h-2zM387 413h1v1h-1zM559 413h3v1h-3zM692 413h1v1h-1zM511 413h3v1h-3zM216 413h19v1h-19zM349 413h4v1h-4zM384 413h2v1h-2zM558 414h4v1h-4zM382 414h4v1h-4zM350 414h5v1h-5zM658 414h5v1h-5zM694 414h1v1h-1zM218 414h15v1h-15zM511 414h4v1h-4zM690 414h3v1h-3zM351 415h5v1h-5zM381 415h5v1h-5zM557 415h4v1h-4zM659 415h5v1h-5zM689 415h4v1h-4zM512 415h4v1h-4zM221 415h9v1h-9zM352 416h6v1h-6zM557 416h3v1h-3zM513 416h4v1h-4zM379 416h6v1h-6zM687 416h6v1h-6zM660 416h6v1h-6zM557 417h2v1h-2zM555 417h1v1h-1zM514 417h4v1h-4zM354 417h6v1h-6zM685 417h6v1h-6zM662 417h6v1h-6zM377 417h6v1h-6zM355 418h9v1h-9zM515 418h5v1h-5zM663 418h9v1h-9zM681 418h9v1h-9zM557 418h1v1h-1zM373 418h9v1h-9zM553 418h3v1h-3zM665 419h23v1h-23zM552 419h4v1h-4zM357 419h23v1h-23zM516 419h5v1h-5zM668 420h17v1h-17zM360 420h17v1h-17zM517 420h6v1h-6zM550 420h6v1h-6zM548 421h6v1h-6zM519 421h6v1h-6zM363 421h11v1h-11zM671 421h11v1h-11zM520 422h7v1h-7zM546 422h7v1h-7zM542 423h9v1h-9zM522 423h9v1h-9zM524 424h25v1h-25zM527 425h19v1h-19zM531 426h11v1h-11zM725 470h98v1h-98zM822 471h1v34h-1zM725 471h1v34h-1zM725 505h98v1h-98zM763 515h1v2h-1zM773 516h1v1h-1zM785 515h1v3h-1zM757 515h1v3h-1zM774 517h1v2h-1zM762 517h1v2h-1zM764 517h1v2h-1zM784 518h1v1h-1zM756 518h1v1h-1zM782 519h6v1h-6zM754 519h6v1h-6zM791 515h1v6h-1zM761 519h1v2h-1zM765 519h1v2h-1zM756 520h1v1h-1zM784 520h1v1h-1zM760 521h1v1h-1zM789 521h6v1h-6zM766 521h1v1h-1zM784 521h2v1h-2zM756 521h2v1h-2zM775 519h1v4h-1zM760 522h7v1h-7zM783 522h1v2h-1zM755 522h1v2h-1zM785 522h1v2h-1zM757 522h1v2h-1zM783 524h5v1h-5zM755 524h5v1h-5zM761 525h4v1h-4zM794 522h1v5h-1zM789 522h1v5h-1zM791 522h1v5h-1zM774 523h1v4h-1zM776 523h1v4h-1zM761 526h1v2h-1zM763 526h2v2h-2zM789 527h6v1h-6zM785 525h1v4h-1zM757 525h1v4h-1zM789 528h1v1h-1zM761 528h4v1h-4zM777 527h1v3h-1zM773 527h1v3h-1zM782 529h8v1h-8zM754 529h8v1h-8zM763 529h2v3h-2zM772 530h1v2h-1zM761 530h1v2h-1zM778 530h1v2h-1zM771 532h1v1h-1zM761 532h4v1h-4zM779 532h1v1h-1zM794 528h1v6h-1zM791 528h1v6h-1zM789 530h1v4h-1zM763 533h2v1h-2zM766 524h1v11h-1zM780 533h1v2h-1zM770 533h1v2h-1zM789 534h6v1h-6zM785 530h1v6h-1zM757 530h1v6h-1zM761 533h1v3h-1zM763 534h1v2h-1zM769 535h1v1h-1zM781 535h1v1h-1zM765 535h2v1h-2zM822 506h1v37h-1zM725 506h1v37h-1zM725 543h98v1h-98zM774 554h1v1h-1zM785 554h4v1h-4zM797 554h6v1h-6zM792 554h3v1h-3zM755 554h1v1h-1zM767 554h1v1h-1zM779 554h3v1h-3zM749 554h1v2h-1zM802 555h1v1h-1zM779 555h1v1h-1zM785 555h1v1h-1zM754 555h2v2h-2zM766 555h2v2h-2zM773 555h2v2h-2zM791 555h1v2h-1zM745 554h1v4h-1zM748 556h1v2h-1zM778 556h1v2h-1zM801 556h1v2h-1zM772 557h1v1h-1zM774 557h1v1h-1zM765 557h2v1h-2zM788 555h1v4h-1zM753 557h2v2h-2zM772 558h2v1h-2zM764 558h1v1h-1zM784 556h1v4h-1zM777 558h1v2h-1zM746 558h2v2h-2zM800 558h1v2h-1zM752 559h1v1h-1zM794 555h1v6h-1zM766 558h1v3h-1zM771 559h1v2h-1zM776 560h5v1h-5zM790 557h1v5h-1zM754 559h1v3h-1zM751 560h1v2h-1zM787 559h1v4h-1zM746 560h1v3h-1zM799 560h1v3h-1zM770 561h1v2h-1zM776 561h1v2h-1zM757 562h4v1h-4zM773 559h1v5h-1zM783 560h1v4h-1zM750 562h1v2h-1zM753 562h1v2h-1zM769 563h1v1h-1zM798 563h1v2h-1zM769 564h5v1h-5zM749 564h6v1h-6zM780 561h1v5h-1zM793 561h1v5h-1zM765 561h1v5h-1zM753 565h1v1h-1zM786 563h1v4h-1zM745 563h1v4h-1zM775 563h1v4h-1zM797 565h1v2h-1zM789 562h1v6h-1zM782 564h1v4h-1zM792 566h1v2h-1zM779 566h1v2h-1zM785 567h1v1h-1zM776 567h1v1h-1zM772 565h1v4h-1zM752 566h1v3h-1zM764 566h1v3h-1zM796 567h1v2h-1zM744 567h1v2h-1zM776 568h3v1h-3zM782 568h4v1h-4zM789 568h3v1h-3zM725 544h1v34h-1zM822 544h1v34h-1zM725 578h98v1h-98z"/>
<path fill="rgb(0,255,128)" d="M8 0h1v2h-1zM0 2h3v1h-3zM4 2h5v1h-5z"/>
</svg>
</body></html>
